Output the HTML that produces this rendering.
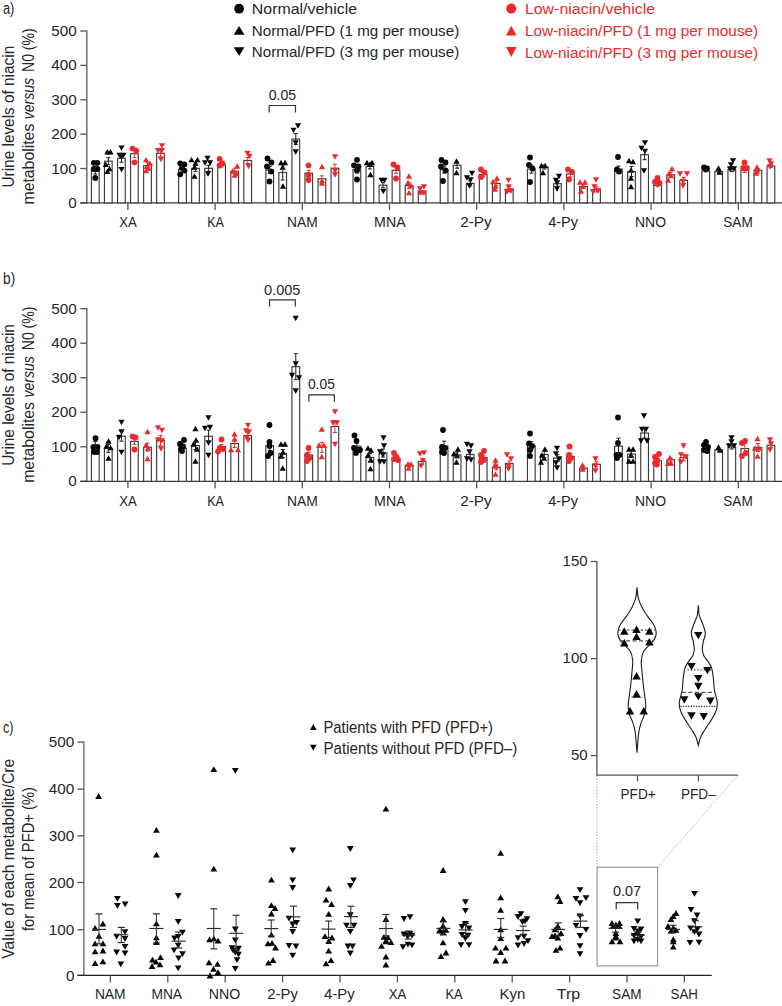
<!DOCTYPE html>
<html><head><meta charset="utf-8"><title>Figure</title>
<style>html,body{margin:0;padding:0;background:#fff;width:782px;height:1006px;overflow:hidden}</style>
</head><body>
<svg width="782" height="1006" viewBox="0 0 782 1006" style="display:block">
<g font-family='"Liberation Sans", sans-serif'>
<text x="2.90" y="13.8" font-size="16" fill="#262626" textLength="11.50" lengthAdjust="spacingAndGlyphs">a)</text>
<text x="3.10" y="283.8" font-size="16" fill="#262626" textLength="12.10" lengthAdjust="spacingAndGlyphs">b)</text>
<text x="2.90" y="733.0" font-size="16" fill="#262626" textLength="10.50" lengthAdjust="spacingAndGlyphs">c)</text>
<circle cx="239.10" cy="8.70" r="4.9" fill="#050505"/>
<polygon points="233.75,34.75 244.45,34.75 239.10,26.05" fill="#050505"/>
<polygon points="233.75,47.30 244.45,47.30 239.10,56.10" fill="#050505"/>
<text x="251.80" y="13.8" font-size="15.5" fill="#262626" textLength="105.31" lengthAdjust="spacingAndGlyphs">Normal/vehicle</text>
<text x="251.80" y="35.6" font-size="15.5" fill="#262626" textLength="207.40" lengthAdjust="spacingAndGlyphs">Normal/PFD (1 mg per mouse)</text>
<text x="251.80" y="57.2" font-size="15.5" fill="#262626" textLength="207.40" lengthAdjust="spacingAndGlyphs">Normal/PFD (3 mg per mouse)</text>
<circle cx="511.20" cy="8.60" r="5.0" fill="#ec2a2e"/>
<polygon points="505.95,35.40 516.65,35.40 511.30,25.80" fill="#ec2a2e"/>
<polygon points="505.95,47.10 516.65,47.10 511.30,56.90" fill="#ec2a2e"/>
<text x="524.90" y="14.3" font-size="15.5" fill="#ec2a2e" textLength="130.20" lengthAdjust="spacingAndGlyphs">Low-niacin/vehicle</text>
<text x="524.90" y="35.9" font-size="15.5" fill="#ec2a2e" textLength="233.29" lengthAdjust="spacingAndGlyphs">Low-niacin/PFD (1 mg per mouse)</text>
<text x="524.90" y="57.6" font-size="15.5" fill="#ec2a2e" textLength="233.29" lengthAdjust="spacingAndGlyphs">Low-niacin/PFD (3 mg per mouse)</text>
<text transform="translate(14.0,187.50) rotate(-90)" font-size="16" fill="#262626" textLength="141.69" lengthAdjust="spacingAndGlyphs">Urine levels of niacin</text>
<text transform="translate(33.7,204.50) rotate(-90)" font-size="16" fill="#262626" textLength="80.80" lengthAdjust="spacingAndGlyphs">metabolites</text>
<text transform="translate(33.7,119.20) rotate(-90)" font-size="16" fill="#262626" font-style="italic" textLength="41.30" lengthAdjust="spacingAndGlyphs">versus</text>
<text transform="translate(33.7,71.90) rotate(-90)" font-size="16" fill="#262626" textLength="43.50" lengthAdjust="spacingAndGlyphs">N0 (%)</text>
<text transform="translate(14.0,465.80) rotate(-90)" font-size="16" fill="#262626" textLength="141.69" lengthAdjust="spacingAndGlyphs">Urine levels of niacin</text>
<text transform="translate(33.7,482.80) rotate(-90)" font-size="16" fill="#262626" textLength="80.80" lengthAdjust="spacingAndGlyphs">metabolites</text>
<text transform="translate(33.7,397.50) rotate(-90)" font-size="16" fill="#262626" font-style="italic" textLength="41.30" lengthAdjust="spacingAndGlyphs">versus</text>
<text transform="translate(33.7,350.20) rotate(-90)" font-size="16" fill="#262626" textLength="43.50" lengthAdjust="spacingAndGlyphs">N0 (%)</text>
<line x1="86.80" y1="30.40" x2="86.80" y2="203.50" stroke="#555" stroke-width="1.3"/>
<line x1="80.30" y1="202.90" x2="86.80" y2="202.90" stroke="#555" stroke-width="1.3"/>
<text x="76.7" y="208.0" font-size="15.3" fill="#262626" text-anchor="end">0</text>
<line x1="80.30" y1="168.52" x2="86.80" y2="168.52" stroke="#555" stroke-width="1.3"/>
<text x="76.7" y="173.62" font-size="15.3" fill="#262626" text-anchor="end">100</text>
<line x1="80.30" y1="134.14" x2="86.80" y2="134.14" stroke="#555" stroke-width="1.3"/>
<text x="76.7" y="139.23999999999998" font-size="15.3" fill="#262626" text-anchor="end">200</text>
<line x1="80.30" y1="99.76" x2="86.80" y2="99.76" stroke="#555" stroke-width="1.3"/>
<text x="76.7" y="104.85999999999999" font-size="15.3" fill="#262626" text-anchor="end">300</text>
<line x1="80.30" y1="65.38" x2="86.80" y2="65.38" stroke="#555" stroke-width="1.3"/>
<text x="76.7" y="70.47999999999999" font-size="15.3" fill="#262626" text-anchor="end">400</text>
<line x1="80.30" y1="31.00" x2="86.80" y2="31.00" stroke="#555" stroke-width="1.3"/>
<text x="76.7" y="36.1" font-size="15.3" fill="#262626" text-anchor="end">500</text>
<line x1="80.30" y1="202.90" x2="782.00" y2="202.90" stroke="#3a3a3a" stroke-width="1.3"/>
<line x1="127.90" y1="202.90" x2="127.90" y2="209.90" stroke="#555" stroke-width="1.3"/>
<text x="119.20" y="226.9" font-size="14.8" fill="#262626" textLength="17.60" lengthAdjust="spacingAndGlyphs">XA</text>
<line x1="215.10" y1="202.90" x2="215.10" y2="209.90" stroke="#555" stroke-width="1.3"/>
<text x="207.20" y="226.9" font-size="14.8" fill="#262626" textLength="16.80" lengthAdjust="spacingAndGlyphs">KA</text>
<line x1="302.30" y1="202.90" x2="302.30" y2="209.90" stroke="#555" stroke-width="1.3"/>
<text x="287.00" y="226.9" font-size="14.8" fill="#262626" textLength="30.70" lengthAdjust="spacingAndGlyphs">NAM</text>
<line x1="389.50" y1="202.90" x2="389.50" y2="209.90" stroke="#555" stroke-width="1.3"/>
<text x="374.10" y="226.9" font-size="14.8" fill="#262626" textLength="31.50" lengthAdjust="spacingAndGlyphs">MNA</text>
<line x1="476.70" y1="202.90" x2="476.70" y2="209.90" stroke="#555" stroke-width="1.3"/>
<text x="460.20" y="226.9" font-size="14.8" fill="#262626" textLength="31.50" lengthAdjust="spacingAndGlyphs">2-Py</text>
<line x1="563.90" y1="202.90" x2="563.90" y2="209.90" stroke="#555" stroke-width="1.3"/>
<text x="548.20" y="226.9" font-size="14.8" fill="#262626" textLength="29.90" lengthAdjust="spacingAndGlyphs">4-Py</text>
<line x1="651.10" y1="202.90" x2="651.10" y2="209.90" stroke="#555" stroke-width="1.3"/>
<text x="635.00" y="226.9" font-size="14.8" fill="#262626" textLength="31.00" lengthAdjust="spacingAndGlyphs">NNO</text>
<line x1="738.30" y1="202.90" x2="738.30" y2="209.90" stroke="#555" stroke-width="1.3"/>
<text x="723.30" y="226.9" font-size="14.8" fill="#262626" textLength="29.50" lengthAdjust="spacingAndGlyphs">SAM</text>
<rect x="91.45" y="170.10" width="7.7" height="32.80" fill="#fff" stroke="#3a3a3a" stroke-width="1.15"/>
<rect x="104.45" y="161.20" width="7.7" height="41.70" fill="#fff" stroke="#3a3a3a" stroke-width="1.15"/>
<rect x="117.55" y="158.30" width="7.7" height="44.60" fill="#fff" stroke="#3a3a3a" stroke-width="1.15"/>
<rect x="130.55" y="153.70" width="7.7" height="49.20" fill="#fff" stroke="#3a3a3a" stroke-width="1.15"/>
<rect x="143.65" y="165.70" width="7.7" height="37.20" fill="#fff" stroke="#3a3a3a" stroke-width="1.15"/>
<rect x="156.65" y="153.30" width="7.7" height="49.60" fill="#fff" stroke="#3a3a3a" stroke-width="1.15"/>
<rect x="178.65" y="169.10" width="7.7" height="33.80" fill="#fff" stroke="#3a3a3a" stroke-width="1.15"/>
<rect x="191.65" y="168.30" width="7.7" height="34.60" fill="#fff" stroke="#3a3a3a" stroke-width="1.15"/>
<rect x="204.75" y="168.30" width="7.7" height="34.60" fill="#fff" stroke="#3a3a3a" stroke-width="1.15"/>
<rect x="217.75" y="164.90" width="7.7" height="38.00" fill="#fff" stroke="#3a3a3a" stroke-width="1.15"/>
<rect x="230.85" y="171.20" width="7.7" height="31.70" fill="#fff" stroke="#3a3a3a" stroke-width="1.15"/>
<rect x="243.85" y="160.50" width="7.7" height="42.40" fill="#fff" stroke="#3a3a3a" stroke-width="1.15"/>
<rect x="265.85" y="170.00" width="7.7" height="32.90" fill="#fff" stroke="#3a3a3a" stroke-width="1.15"/>
<rect x="278.85" y="172.50" width="7.7" height="30.40" fill="#fff" stroke="#3a3a3a" stroke-width="1.15"/>
<rect x="291.95" y="139.00" width="7.7" height="63.90" fill="#fff" stroke="#3a3a3a" stroke-width="1.15"/>
<rect x="304.95" y="173.20" width="7.7" height="29.70" fill="#fff" stroke="#3a3a3a" stroke-width="1.15"/>
<rect x="318.05" y="178.80" width="7.7" height="24.10" fill="#fff" stroke="#3a3a3a" stroke-width="1.15"/>
<rect x="331.05" y="168.20" width="7.7" height="34.70" fill="#fff" stroke="#3a3a3a" stroke-width="1.15"/>
<rect x="353.05" y="169.40" width="7.7" height="33.50" fill="#fff" stroke="#3a3a3a" stroke-width="1.15"/>
<rect x="366.05" y="166.40" width="7.7" height="36.50" fill="#fff" stroke="#3a3a3a" stroke-width="1.15"/>
<rect x="379.15" y="185.20" width="7.7" height="17.70" fill="#fff" stroke="#3a3a3a" stroke-width="1.15"/>
<rect x="392.15" y="170.30" width="7.7" height="32.60" fill="#fff" stroke="#3a3a3a" stroke-width="1.15"/>
<rect x="405.25" y="185.60" width="7.7" height="17.30" fill="#fff" stroke="#3a3a3a" stroke-width="1.15"/>
<rect x="418.25" y="192.70" width="7.7" height="10.20" fill="#fff" stroke="#3a3a3a" stroke-width="1.15"/>
<rect x="440.25" y="169.60" width="7.7" height="33.30" fill="#fff" stroke="#3a3a3a" stroke-width="1.15"/>
<rect x="453.25" y="165.20" width="7.7" height="37.70" fill="#fff" stroke="#3a3a3a" stroke-width="1.15"/>
<rect x="466.35" y="183.40" width="7.7" height="19.50" fill="#fff" stroke="#3a3a3a" stroke-width="1.15"/>
<rect x="479.35" y="174.60" width="7.7" height="28.30" fill="#fff" stroke="#3a3a3a" stroke-width="1.15"/>
<rect x="492.45" y="183.40" width="7.7" height="19.50" fill="#fff" stroke="#3a3a3a" stroke-width="1.15"/>
<rect x="505.45" y="189.20" width="7.7" height="13.70" fill="#fff" stroke="#3a3a3a" stroke-width="1.15"/>
<rect x="527.45" y="169.10" width="7.7" height="33.80" fill="#fff" stroke="#3a3a3a" stroke-width="1.15"/>
<rect x="540.45" y="167.00" width="7.7" height="35.90" fill="#fff" stroke="#3a3a3a" stroke-width="1.15"/>
<rect x="553.55" y="183.70" width="7.7" height="19.20" fill="#fff" stroke="#3a3a3a" stroke-width="1.15"/>
<rect x="566.55" y="174.00" width="7.7" height="28.90" fill="#fff" stroke="#3a3a3a" stroke-width="1.15"/>
<rect x="579.65" y="186.40" width="7.7" height="16.50" fill="#fff" stroke="#3a3a3a" stroke-width="1.15"/>
<rect x="592.65" y="189.50" width="7.7" height="13.40" fill="#fff" stroke="#3a3a3a" stroke-width="1.15"/>
<rect x="614.65" y="169.10" width="7.7" height="33.80" fill="#fff" stroke="#3a3a3a" stroke-width="1.15"/>
<rect x="627.65" y="171.50" width="7.7" height="31.40" fill="#fff" stroke="#3a3a3a" stroke-width="1.15"/>
<rect x="640.75" y="154.70" width="7.7" height="48.20" fill="#fff" stroke="#3a3a3a" stroke-width="1.15"/>
<rect x="653.75" y="185.30" width="7.7" height="17.60" fill="#fff" stroke="#3a3a3a" stroke-width="1.15"/>
<rect x="666.85" y="174.80" width="7.7" height="28.10" fill="#fff" stroke="#3a3a3a" stroke-width="1.15"/>
<rect x="679.85" y="180.30" width="7.7" height="22.60" fill="#fff" stroke="#3a3a3a" stroke-width="1.15"/>
<rect x="701.85" y="170.90" width="7.7" height="32.00" fill="#fff" stroke="#3a3a3a" stroke-width="1.15"/>
<rect x="714.85" y="171.40" width="7.7" height="31.50" fill="#fff" stroke="#3a3a3a" stroke-width="1.15"/>
<rect x="727.95" y="169.60" width="7.7" height="33.30" fill="#fff" stroke="#3a3a3a" stroke-width="1.15"/>
<rect x="740.95" y="170.60" width="7.7" height="32.30" fill="#fff" stroke="#3a3a3a" stroke-width="1.15"/>
<rect x="754.05" y="170.30" width="7.7" height="32.60" fill="#fff" stroke="#3a3a3a" stroke-width="1.15"/>
<rect x="767.05" y="166.00" width="7.7" height="36.90" fill="#fff" stroke="#3a3a3a" stroke-width="1.15"/>
<circle cx="93.80" cy="162.80" r="2.9" fill="#050505"/>
<circle cx="97.40" cy="162.80" r="2.9" fill="#050505"/>
<circle cx="93.80" cy="169.00" r="2.9" fill="#050505"/>
<circle cx="97.40" cy="169.00" r="2.9" fill="#050505"/>
<circle cx="95.30" cy="178.00" r="2.9" fill="#050505"/>
<line x1="95.30" y1="166.10" x2="95.30" y2="174.10" stroke="#1e1e1e" stroke-width="1.0"/>
<line x1="93.30" y1="166.10" x2="97.30" y2="166.10" stroke="#1e1e1e" stroke-width="1.0"/>
<line x1="93.30" y1="174.10" x2="97.30" y2="174.10" stroke="#1e1e1e" stroke-width="1.0"/>
<polygon points="104.30,154.50 110.50,154.50 107.40,149.10" fill="#050505"/>
<polygon points="107.40,154.50 113.60,154.50 110.50,149.10" fill="#050505"/>
<polygon points="102.70,167.10 108.90,167.10 105.80,161.70" fill="#050505"/>
<polygon points="106.40,171.20 112.60,171.20 109.50,165.80" fill="#050505"/>
<polygon points="104.30,173.90 110.50,173.90 107.40,168.50" fill="#050505"/>
<line x1="108.30" y1="157.70" x2="108.30" y2="164.70" stroke="#1e1e1e" stroke-width="1.0"/>
<line x1="106.30" y1="157.70" x2="110.30" y2="157.70" stroke="#1e1e1e" stroke-width="1.0"/>
<line x1="106.30" y1="164.70" x2="110.30" y2="164.70" stroke="#1e1e1e" stroke-width="1.0"/>
<polygon points="118.40,145.40 124.60,145.40 121.50,150.80" fill="#050505"/>
<polygon points="116.40,152.70 122.60,152.70 119.50,158.10" fill="#050505"/>
<polygon points="120.40,152.70 126.60,152.70 123.50,158.10" fill="#050505"/>
<polygon points="118.40,154.30 124.60,154.30 121.50,159.70" fill="#050505"/>
<polygon points="118.40,166.90 124.60,166.90 121.50,172.30" fill="#050505"/>
<line x1="121.40" y1="154.30" x2="121.40" y2="162.30" stroke="#1e1e1e" stroke-width="1.0"/>
<line x1="119.40" y1="154.30" x2="123.40" y2="154.30" stroke="#1e1e1e" stroke-width="1.0"/>
<line x1="119.40" y1="162.30" x2="123.40" y2="162.30" stroke="#1e1e1e" stroke-width="1.0"/>
<circle cx="132.50" cy="148.60" r="2.9" fill="#ec2a2e"/>
<circle cx="136.20" cy="150.70" r="2.9" fill="#ec2a2e"/>
<circle cx="134.50" cy="162.30" r="2.9" fill="#ec2a2e"/>
<line x1="134.40" y1="149.70" x2="134.40" y2="157.70" stroke="#ec2a2e" stroke-width="1.0"/>
<line x1="132.40" y1="149.70" x2="136.40" y2="149.70" stroke="#ec2a2e" stroke-width="1.0"/>
<line x1="132.40" y1="157.70" x2="136.40" y2="157.70" stroke="#ec2a2e" stroke-width="1.0"/>
<polygon points="142.90,162.30 149.10,162.30 146.00,156.90" fill="#ec2a2e"/>
<polygon points="146.90,166.00 153.10,166.00 150.00,160.60" fill="#ec2a2e"/>
<polygon points="143.90,169.10 150.10,169.10 147.00,163.70" fill="#ec2a2e"/>
<polygon points="142.90,173.30 149.10,173.30 146.00,167.90" fill="#ec2a2e"/>
<polygon points="145.40,170.70 151.60,170.70 148.50,165.30" fill="#ec2a2e"/>
<line x1="147.50" y1="162.70" x2="147.50" y2="168.70" stroke="#ec2a2e" stroke-width="1.0"/>
<line x1="145.50" y1="162.70" x2="149.50" y2="162.70" stroke="#ec2a2e" stroke-width="1.0"/>
<line x1="145.50" y1="168.70" x2="149.50" y2="168.70" stroke="#ec2a2e" stroke-width="1.0"/>
<polygon points="158.90,143.30 165.10,143.30 162.00,148.70" fill="#ec2a2e"/>
<polygon points="154.90,148.00 161.10,148.00 158.00,153.40" fill="#ec2a2e"/>
<polygon points="158.90,148.00 165.10,148.00 162.00,153.40" fill="#ec2a2e"/>
<polygon points="157.90,156.90 164.10,156.90 161.00,162.30" fill="#ec2a2e"/>
<line x1="160.50" y1="150.30" x2="160.50" y2="156.30" stroke="#ec2a2e" stroke-width="1.0"/>
<line x1="158.50" y1="150.30" x2="162.50" y2="150.30" stroke="#ec2a2e" stroke-width="1.0"/>
<line x1="158.50" y1="156.30" x2="162.50" y2="156.30" stroke="#ec2a2e" stroke-width="1.0"/>
<circle cx="180.20" cy="163.30" r="2.9" fill="#050505"/>
<circle cx="184.40" cy="164.40" r="2.9" fill="#050505"/>
<circle cx="184.40" cy="170.60" r="2.9" fill="#050505"/>
<circle cx="180.20" cy="174.30" r="2.9" fill="#050505"/>
<circle cx="182.00" cy="168.00" r="2.9" fill="#050505"/>
<line x1="182.50" y1="166.10" x2="182.50" y2="172.10" stroke="#1e1e1e" stroke-width="1.0"/>
<line x1="180.50" y1="166.10" x2="184.50" y2="166.10" stroke="#1e1e1e" stroke-width="1.0"/>
<line x1="180.50" y1="172.10" x2="184.50" y2="172.10" stroke="#1e1e1e" stroke-width="1.0"/>
<polygon points="188.40,162.30 194.60,162.30 191.50,156.90" fill="#050505"/>
<polygon points="194.40,162.30 200.60,162.30 197.50,156.90" fill="#050505"/>
<polygon points="191.40,169.70 197.60,169.70 194.50,164.30" fill="#050505"/>
<polygon points="191.40,178.70 197.60,178.70 194.50,173.30" fill="#050505"/>
<polygon points="192.40,165.70 198.60,165.70 195.50,160.30" fill="#050505"/>
<line x1="195.50" y1="165.30" x2="195.50" y2="171.30" stroke="#1e1e1e" stroke-width="1.0"/>
<line x1="193.50" y1="165.30" x2="197.50" y2="165.30" stroke="#1e1e1e" stroke-width="1.0"/>
<line x1="193.50" y1="171.30" x2="197.50" y2="171.30" stroke="#1e1e1e" stroke-width="1.0"/>
<polygon points="204.40,155.80 210.60,155.80 207.50,161.20" fill="#050505"/>
<polygon points="201.90,160.30 208.10,160.30 205.00,165.70" fill="#050505"/>
<polygon points="206.90,160.30 213.10,160.30 210.00,165.70" fill="#050505"/>
<polygon points="204.90,171.30 211.10,171.30 208.00,176.70" fill="#050505"/>
<line x1="208.60" y1="165.30" x2="208.60" y2="171.30" stroke="#1e1e1e" stroke-width="1.0"/>
<line x1="206.60" y1="165.30" x2="210.60" y2="165.30" stroke="#1e1e1e" stroke-width="1.0"/>
<line x1="206.60" y1="171.30" x2="210.60" y2="171.30" stroke="#1e1e1e" stroke-width="1.0"/>
<circle cx="219.60" cy="158.90" r="2.9" fill="#ec2a2e"/>
<circle cx="222.50" cy="163.30" r="2.9" fill="#ec2a2e"/>
<circle cx="219.50" cy="165.50" r="2.9" fill="#ec2a2e"/>
<line x1="221.60" y1="162.90" x2="221.60" y2="166.90" stroke="#ec2a2e" stroke-width="1.0"/>
<line x1="219.60" y1="162.90" x2="223.60" y2="162.90" stroke="#ec2a2e" stroke-width="1.0"/>
<line x1="219.60" y1="166.90" x2="223.60" y2="166.90" stroke="#ec2a2e" stroke-width="1.0"/>
<polygon points="234.10,168.70 240.30,168.70 237.20,163.30" fill="#ec2a2e"/>
<polygon points="229.50,173.70 235.70,173.70 232.60,168.30" fill="#ec2a2e"/>
<polygon points="233.40,176.10 239.60,176.10 236.50,170.70" fill="#ec2a2e"/>
<polygon points="231.50,177.70 237.70,177.70 234.60,172.30" fill="#ec2a2e"/>
<line x1="234.70" y1="168.20" x2="234.70" y2="174.20" stroke="#ec2a2e" stroke-width="1.0"/>
<line x1="232.70" y1="168.20" x2="236.70" y2="168.20" stroke="#ec2a2e" stroke-width="1.0"/>
<line x1="232.70" y1="174.20" x2="236.70" y2="174.20" stroke="#ec2a2e" stroke-width="1.0"/>
<polygon points="244.40,150.80 250.60,150.80 247.50,156.20" fill="#ec2a2e"/>
<polygon points="246.40,153.80 252.60,153.80 249.50,159.20" fill="#ec2a2e"/>
<polygon points="245.40,163.80 251.60,163.80 248.50,169.20" fill="#ec2a2e"/>
<line x1="247.70" y1="157.50" x2="247.70" y2="163.50" stroke="#ec2a2e" stroke-width="1.0"/>
<line x1="245.70" y1="157.50" x2="249.70" y2="157.50" stroke="#ec2a2e" stroke-width="1.0"/>
<line x1="245.70" y1="163.50" x2="249.70" y2="163.50" stroke="#ec2a2e" stroke-width="1.0"/>
<circle cx="267.50" cy="158.50" r="2.9" fill="#050505"/>
<circle cx="271.50" cy="162.50" r="2.9" fill="#050505"/>
<circle cx="267.00" cy="166.50" r="2.9" fill="#050505"/>
<circle cx="271.00" cy="171.50" r="2.9" fill="#050505"/>
<circle cx="269.50" cy="181.50" r="2.9" fill="#050505"/>
<line x1="269.70" y1="166.50" x2="269.70" y2="173.50" stroke="#1e1e1e" stroke-width="1.0"/>
<line x1="267.70" y1="166.50" x2="271.70" y2="166.50" stroke="#1e1e1e" stroke-width="1.0"/>
<line x1="267.70" y1="173.50" x2="271.70" y2="173.50" stroke="#1e1e1e" stroke-width="1.0"/>
<polygon points="277.90,165.20 284.10,165.20 281.00,159.80" fill="#050505"/>
<polygon points="281.90,165.20 288.10,165.20 285.00,159.80" fill="#050505"/>
<polygon points="279.60,169.70 285.80,169.70 282.70,164.30" fill="#050505"/>
<polygon points="279.90,188.70 286.10,188.70 283.00,183.30" fill="#050505"/>
<line x1="282.70" y1="165.00" x2="282.70" y2="180.00" stroke="#1e1e1e" stroke-width="1.0"/>
<line x1="280.70" y1="165.00" x2="284.70" y2="165.00" stroke="#1e1e1e" stroke-width="1.0"/>
<line x1="280.70" y1="180.00" x2="284.70" y2="180.00" stroke="#1e1e1e" stroke-width="1.0"/>
<polygon points="294.90,123.30 301.10,123.30 298.00,128.70" fill="#050505"/>
<polygon points="290.40,127.80 296.60,127.80 293.50,133.20" fill="#050505"/>
<polygon points="292.60,140.30 298.80,140.30 295.70,145.70" fill="#050505"/>
<polygon points="292.60,149.30 298.80,149.30 295.70,154.70" fill="#050505"/>
<line x1="295.80" y1="133.40" x2="295.80" y2="144.60" stroke="#1e1e1e" stroke-width="1.0"/>
<line x1="293.80" y1="133.40" x2="297.80" y2="133.40" stroke="#1e1e1e" stroke-width="1.0"/>
<line x1="293.80" y1="144.60" x2="297.80" y2="144.60" stroke="#1e1e1e" stroke-width="1.0"/>
<circle cx="308.50" cy="165.30" r="2.9" fill="#ec2a2e"/>
<circle cx="308.50" cy="175.00" r="2.9" fill="#ec2a2e"/>
<circle cx="308.50" cy="180.00" r="2.9" fill="#ec2a2e"/>
<line x1="308.80" y1="170.20" x2="308.80" y2="176.20" stroke="#ec2a2e" stroke-width="1.0"/>
<line x1="306.80" y1="170.20" x2="310.80" y2="170.20" stroke="#ec2a2e" stroke-width="1.0"/>
<line x1="306.80" y1="176.20" x2="310.80" y2="176.20" stroke="#ec2a2e" stroke-width="1.0"/>
<polygon points="318.90,169.20 325.10,169.20 322.00,163.80" fill="#ec2a2e"/>
<polygon points="318.90,183.20 325.10,183.20 322.00,177.80" fill="#ec2a2e"/>
<polygon points="318.90,185.70 325.10,185.70 322.00,180.30" fill="#ec2a2e"/>
<line x1="321.90" y1="175.80" x2="321.90" y2="181.80" stroke="#ec2a2e" stroke-width="1.0"/>
<line x1="319.90" y1="175.80" x2="323.90" y2="175.80" stroke="#ec2a2e" stroke-width="1.0"/>
<line x1="319.90" y1="181.80" x2="323.90" y2="181.80" stroke="#ec2a2e" stroke-width="1.0"/>
<polygon points="331.90,154.30 338.10,154.30 335.00,159.70" fill="#ec2a2e"/>
<polygon points="331.90,168.30 338.10,168.30 335.00,173.70" fill="#ec2a2e"/>
<polygon points="331.90,172.30 338.10,172.30 335.00,177.70" fill="#ec2a2e"/>
<line x1="334.90" y1="164.20" x2="334.90" y2="172.20" stroke="#ec2a2e" stroke-width="1.0"/>
<line x1="332.90" y1="164.20" x2="336.90" y2="164.20" stroke="#ec2a2e" stroke-width="1.0"/>
<line x1="332.90" y1="172.20" x2="336.90" y2="172.20" stroke="#ec2a2e" stroke-width="1.0"/>
<circle cx="357.00" cy="159.80" r="2.9" fill="#050505"/>
<circle cx="354.00" cy="165.30" r="2.9" fill="#050505"/>
<circle cx="358.50" cy="166.50" r="2.9" fill="#050505"/>
<circle cx="357.00" cy="170.50" r="2.9" fill="#050505"/>
<circle cx="357.00" cy="179.50" r="2.9" fill="#050505"/>
<line x1="356.90" y1="165.90" x2="356.90" y2="172.90" stroke="#1e1e1e" stroke-width="1.0"/>
<line x1="354.90" y1="165.90" x2="358.90" y2="165.90" stroke="#1e1e1e" stroke-width="1.0"/>
<line x1="354.90" y1="172.90" x2="358.90" y2="172.90" stroke="#1e1e1e" stroke-width="1.0"/>
<polygon points="363.90,165.20 370.10,165.20 367.00,159.80" fill="#050505"/>
<polygon points="368.90,165.20 375.10,165.20 372.00,159.80" fill="#050505"/>
<polygon points="366.90,166.70 373.10,166.70 370.00,161.30" fill="#050505"/>
<polygon points="367.30,177.20 373.50,177.20 370.40,171.80" fill="#050505"/>
<line x1="369.90" y1="163.90" x2="369.90" y2="168.90" stroke="#1e1e1e" stroke-width="1.0"/>
<line x1="367.90" y1="163.90" x2="371.90" y2="163.90" stroke="#1e1e1e" stroke-width="1.0"/>
<line x1="367.90" y1="168.90" x2="371.90" y2="168.90" stroke="#1e1e1e" stroke-width="1.0"/>
<polygon points="378.40,177.80 384.60,177.80 381.50,183.20" fill="#050505"/>
<polygon points="381.40,177.80 387.60,177.80 384.50,183.20" fill="#050505"/>
<polygon points="380.20,188.80 386.40,188.80 383.30,194.20" fill="#050505"/>
<line x1="383.00" y1="182.70" x2="383.00" y2="187.70" stroke="#1e1e1e" stroke-width="1.0"/>
<line x1="381.00" y1="182.70" x2="385.00" y2="182.70" stroke="#1e1e1e" stroke-width="1.0"/>
<line x1="381.00" y1="187.70" x2="385.00" y2="187.70" stroke="#1e1e1e" stroke-width="1.0"/>
<circle cx="393.50" cy="164.50" r="2.9" fill="#ec2a2e"/>
<circle cx="397.50" cy="167.50" r="2.9" fill="#ec2a2e"/>
<circle cx="396.00" cy="178.50" r="2.9" fill="#ec2a2e"/>
<line x1="396.00" y1="167.30" x2="396.00" y2="173.30" stroke="#ec2a2e" stroke-width="1.0"/>
<line x1="394.00" y1="167.30" x2="398.00" y2="167.30" stroke="#ec2a2e" stroke-width="1.0"/>
<line x1="394.00" y1="173.30" x2="398.00" y2="173.30" stroke="#ec2a2e" stroke-width="1.0"/>
<polygon points="405.90,178.70 412.10,178.70 409.00,173.30" fill="#ec2a2e"/>
<polygon points="404.90,185.20 411.10,185.20 408.00,179.80" fill="#ec2a2e"/>
<polygon points="407.90,188.20 414.10,188.20 411.00,182.80" fill="#ec2a2e"/>
<polygon points="405.90,195.20 412.10,195.20 409.00,189.80" fill="#ec2a2e"/>
<line x1="409.10" y1="182.60" x2="409.10" y2="188.60" stroke="#ec2a2e" stroke-width="1.0"/>
<line x1="407.10" y1="182.60" x2="411.10" y2="182.60" stroke="#ec2a2e" stroke-width="1.0"/>
<line x1="407.10" y1="188.60" x2="411.10" y2="188.60" stroke="#ec2a2e" stroke-width="1.0"/>
<polygon points="416.90,186.30 423.10,186.30 420.00,191.70" fill="#ec2a2e"/>
<polygon points="420.90,184.30 427.10,184.30 424.00,189.70" fill="#ec2a2e"/>
<polygon points="416.90,190.30 423.10,190.30 420.00,195.70" fill="#ec2a2e"/>
<polygon points="420.90,190.30 427.10,190.30 424.00,195.70" fill="#ec2a2e"/>
<line x1="422.10" y1="191.20" x2="422.10" y2="194.20" stroke="#ec2a2e" stroke-width="1.0"/>
<line x1="420.10" y1="191.20" x2="424.10" y2="191.20" stroke="#ec2a2e" stroke-width="1.0"/>
<line x1="420.10" y1="194.20" x2="424.10" y2="194.20" stroke="#ec2a2e" stroke-width="1.0"/>
<circle cx="441.50" cy="160.00" r="2.9" fill="#050505"/>
<circle cx="445.50" cy="162.50" r="2.9" fill="#050505"/>
<circle cx="441.00" cy="166.50" r="2.9" fill="#050505"/>
<circle cx="445.50" cy="170.50" r="2.9" fill="#050505"/>
<circle cx="443.00" cy="181.00" r="2.9" fill="#050505"/>
<line x1="444.10" y1="166.10" x2="444.10" y2="173.10" stroke="#1e1e1e" stroke-width="1.0"/>
<line x1="442.10" y1="166.10" x2="446.10" y2="166.10" stroke="#1e1e1e" stroke-width="1.0"/>
<line x1="442.10" y1="173.10" x2="446.10" y2="173.10" stroke="#1e1e1e" stroke-width="1.0"/>
<polygon points="453.40,163.70 459.60,163.70 456.50,158.30" fill="#050505"/>
<polygon points="453.40,175.20 459.60,175.20 456.50,169.80" fill="#050505"/>
<line x1="457.10" y1="162.20" x2="457.10" y2="168.20" stroke="#1e1e1e" stroke-width="1.0"/>
<line x1="455.10" y1="162.20" x2="459.10" y2="162.20" stroke="#1e1e1e" stroke-width="1.0"/>
<line x1="455.10" y1="168.20" x2="459.10" y2="168.20" stroke="#1e1e1e" stroke-width="1.0"/>
<polygon points="468.90,170.80 475.10,170.80 472.00,176.20" fill="#050505"/>
<polygon points="463.90,175.30 470.10,175.30 467.00,180.70" fill="#050505"/>
<polygon points="467.40,177.30 473.60,177.30 470.50,182.70" fill="#050505"/>
<polygon points="466.40,183.30 472.60,183.30 469.50,188.70" fill="#050505"/>
<line x1="470.20" y1="180.90" x2="470.20" y2="185.90" stroke="#1e1e1e" stroke-width="1.0"/>
<line x1="468.20" y1="180.90" x2="472.20" y2="180.90" stroke="#1e1e1e" stroke-width="1.0"/>
<line x1="468.20" y1="185.90" x2="472.20" y2="185.90" stroke="#1e1e1e" stroke-width="1.0"/>
<circle cx="481.00" cy="169.50" r="2.9" fill="#ec2a2e"/>
<circle cx="484.50" cy="172.50" r="2.9" fill="#ec2a2e"/>
<circle cx="481.00" cy="177.00" r="2.9" fill="#ec2a2e"/>
<line x1="483.20" y1="172.60" x2="483.20" y2="176.60" stroke="#ec2a2e" stroke-width="1.0"/>
<line x1="481.20" y1="172.60" x2="485.20" y2="172.60" stroke="#ec2a2e" stroke-width="1.0"/>
<line x1="481.20" y1="176.60" x2="485.20" y2="176.60" stroke="#ec2a2e" stroke-width="1.0"/>
<polygon points="493.90,180.70 500.10,180.70 497.00,175.30" fill="#ec2a2e"/>
<polygon points="489.90,184.20 496.10,184.20 493.00,178.80" fill="#ec2a2e"/>
<polygon points="492.40,188.70 498.60,188.70 495.50,183.30" fill="#ec2a2e"/>
<polygon points="491.90,191.70 498.10,191.70 495.00,186.30" fill="#ec2a2e"/>
<line x1="496.30" y1="180.90" x2="496.30" y2="185.90" stroke="#ec2a2e" stroke-width="1.0"/>
<line x1="494.30" y1="180.90" x2="498.30" y2="180.90" stroke="#ec2a2e" stroke-width="1.0"/>
<line x1="494.30" y1="185.90" x2="498.30" y2="185.90" stroke="#ec2a2e" stroke-width="1.0"/>
<polygon points="505.40,177.80 511.60,177.80 508.50,183.20" fill="#ec2a2e"/>
<polygon points="505.40,184.30 511.60,184.30 508.50,189.70" fill="#ec2a2e"/>
<polygon points="503.90,189.30 510.10,189.30 507.00,194.70" fill="#ec2a2e"/>
<polygon points="507.90,188.30 514.10,188.30 511.00,193.70" fill="#ec2a2e"/>
<line x1="509.30" y1="186.70" x2="509.30" y2="191.70" stroke="#ec2a2e" stroke-width="1.0"/>
<line x1="507.30" y1="186.70" x2="511.30" y2="186.70" stroke="#ec2a2e" stroke-width="1.0"/>
<line x1="507.30" y1="191.70" x2="511.30" y2="191.70" stroke="#ec2a2e" stroke-width="1.0"/>
<circle cx="530.00" cy="157.50" r="2.9" fill="#050505"/>
<circle cx="529.00" cy="165.00" r="2.9" fill="#050505"/>
<circle cx="532.50" cy="168.50" r="2.9" fill="#050505"/>
<circle cx="530.00" cy="182.00" r="2.9" fill="#050505"/>
<line x1="531.30" y1="165.10" x2="531.30" y2="173.10" stroke="#1e1e1e" stroke-width="1.0"/>
<line x1="529.30" y1="165.10" x2="533.30" y2="165.10" stroke="#1e1e1e" stroke-width="1.0"/>
<line x1="529.30" y1="173.10" x2="533.30" y2="173.10" stroke="#1e1e1e" stroke-width="1.0"/>
<polygon points="538.40,168.20 544.60,168.20 541.50,162.80" fill="#050505"/>
<polygon points="541.90,168.20 548.10,168.20 545.00,162.80" fill="#050505"/>
<polygon points="539.90,175.20 546.10,175.20 543.00,169.80" fill="#050505"/>
<line x1="544.30" y1="165.00" x2="544.30" y2="169.00" stroke="#1e1e1e" stroke-width="1.0"/>
<line x1="542.30" y1="165.00" x2="546.30" y2="165.00" stroke="#1e1e1e" stroke-width="1.0"/>
<line x1="542.30" y1="169.00" x2="546.30" y2="169.00" stroke="#1e1e1e" stroke-width="1.0"/>
<polygon points="555.90,173.80 562.10,173.80 559.00,179.20" fill="#050505"/>
<polygon points="552.90,177.80 559.10,177.80 556.00,183.20" fill="#050505"/>
<polygon points="553.90,180.30 560.10,180.30 557.00,185.70" fill="#050505"/>
<polygon points="553.90,186.30 560.10,186.30 557.00,191.70" fill="#050505"/>
<line x1="557.40" y1="181.20" x2="557.40" y2="186.20" stroke="#1e1e1e" stroke-width="1.0"/>
<line x1="555.40" y1="181.20" x2="559.40" y2="181.20" stroke="#1e1e1e" stroke-width="1.0"/>
<line x1="555.40" y1="186.20" x2="559.40" y2="186.20" stroke="#1e1e1e" stroke-width="1.0"/>
<circle cx="568.00" cy="169.50" r="2.9" fill="#ec2a2e"/>
<circle cx="572.00" cy="172.00" r="2.9" fill="#ec2a2e"/>
<circle cx="569.00" cy="179.50" r="2.9" fill="#ec2a2e"/>
<line x1="570.40" y1="171.00" x2="570.40" y2="177.00" stroke="#ec2a2e" stroke-width="1.0"/>
<line x1="568.40" y1="171.00" x2="572.40" y2="171.00" stroke="#ec2a2e" stroke-width="1.0"/>
<line x1="568.40" y1="177.00" x2="572.40" y2="177.00" stroke="#ec2a2e" stroke-width="1.0"/>
<polygon points="576.90,184.70 583.10,184.70 580.00,179.30" fill="#ec2a2e"/>
<polygon points="581.90,184.70 588.10,184.70 585.00,179.30" fill="#ec2a2e"/>
<polygon points="579.90,188.70 586.10,188.70 583.00,183.30" fill="#ec2a2e"/>
<polygon points="577.90,193.70 584.10,193.70 581.00,188.30" fill="#ec2a2e"/>
<line x1="583.50" y1="184.40" x2="583.50" y2="188.40" stroke="#ec2a2e" stroke-width="1.0"/>
<line x1="581.50" y1="184.40" x2="585.50" y2="184.40" stroke="#ec2a2e" stroke-width="1.0"/>
<line x1="581.50" y1="188.40" x2="585.50" y2="188.40" stroke="#ec2a2e" stroke-width="1.0"/>
<polygon points="592.90,177.30 599.10,177.30 596.00,182.70" fill="#ec2a2e"/>
<polygon points="591.40,184.30 597.60,184.30 594.50,189.70" fill="#ec2a2e"/>
<polygon points="589.90,189.30 596.10,189.30 593.00,194.70" fill="#ec2a2e"/>
<polygon points="594.90,188.30 601.10,188.30 598.00,193.70" fill="#ec2a2e"/>
<line x1="596.50" y1="187.00" x2="596.50" y2="192.00" stroke="#ec2a2e" stroke-width="1.0"/>
<line x1="594.50" y1="187.00" x2="598.50" y2="187.00" stroke="#ec2a2e" stroke-width="1.0"/>
<line x1="594.50" y1="192.00" x2="598.50" y2="192.00" stroke="#ec2a2e" stroke-width="1.0"/>
<circle cx="618.00" cy="157.00" r="2.9" fill="#050505"/>
<circle cx="617.00" cy="169.50" r="2.9" fill="#050505"/>
<circle cx="619.00" cy="171.50" r="2.9" fill="#050505"/>
<line x1="618.50" y1="166.10" x2="618.50" y2="172.10" stroke="#1e1e1e" stroke-width="1.0"/>
<line x1="616.50" y1="166.10" x2="620.50" y2="166.10" stroke="#1e1e1e" stroke-width="1.0"/>
<line x1="616.50" y1="172.10" x2="620.50" y2="172.10" stroke="#1e1e1e" stroke-width="1.0"/>
<polygon points="625.90,163.20 632.10,163.20 629.00,157.80" fill="#050505"/>
<polygon points="629.90,164.20 636.10,164.20 633.00,158.80" fill="#050505"/>
<polygon points="627.90,172.70 634.10,172.70 631.00,167.30" fill="#050505"/>
<polygon points="627.90,180.70 634.10,180.70 631.00,175.30" fill="#050505"/>
<polygon points="627.90,189.20 634.10,189.20 631.00,183.80" fill="#050505"/>
<line x1="631.50" y1="166.50" x2="631.50" y2="176.50" stroke="#1e1e1e" stroke-width="1.0"/>
<line x1="629.50" y1="166.50" x2="633.50" y2="166.50" stroke="#1e1e1e" stroke-width="1.0"/>
<line x1="629.50" y1="176.50" x2="633.50" y2="176.50" stroke="#1e1e1e" stroke-width="1.0"/>
<polygon points="641.90,140.30 648.10,140.30 645.00,145.70" fill="#050505"/>
<polygon points="638.40,145.80 644.60,145.80 641.50,151.20" fill="#050505"/>
<polygon points="641.90,148.80 648.10,148.80 645.00,154.20" fill="#050505"/>
<polygon points="640.90,168.30 647.10,168.30 644.00,173.70" fill="#050505"/>
<line x1="644.60" y1="149.70" x2="644.60" y2="159.70" stroke="#1e1e1e" stroke-width="1.0"/>
<line x1="642.60" y1="149.70" x2="646.60" y2="149.70" stroke="#1e1e1e" stroke-width="1.0"/>
<line x1="642.60" y1="159.70" x2="646.60" y2="159.70" stroke="#1e1e1e" stroke-width="1.0"/>
<circle cx="657.50" cy="178.00" r="2.9" fill="#ec2a2e"/>
<circle cx="655.00" cy="182.00" r="2.9" fill="#ec2a2e"/>
<circle cx="659.50" cy="183.00" r="2.9" fill="#ec2a2e"/>
<line x1="657.60" y1="183.80" x2="657.60" y2="186.80" stroke="#ec2a2e" stroke-width="1.0"/>
<line x1="655.60" y1="183.80" x2="659.60" y2="183.80" stroke="#ec2a2e" stroke-width="1.0"/>
<line x1="655.60" y1="186.80" x2="659.60" y2="186.80" stroke="#ec2a2e" stroke-width="1.0"/>
<polygon points="668.90,171.20 675.10,171.20 672.00,165.80" fill="#ec2a2e"/>
<polygon points="665.90,176.20 672.10,176.20 669.00,170.80" fill="#ec2a2e"/>
<polygon points="667.90,178.20 674.10,178.20 671.00,172.80" fill="#ec2a2e"/>
<polygon points="664.90,182.70 671.10,182.70 668.00,177.30" fill="#ec2a2e"/>
<line x1="670.70" y1="172.30" x2="670.70" y2="177.30" stroke="#ec2a2e" stroke-width="1.0"/>
<line x1="668.70" y1="172.30" x2="672.70" y2="172.30" stroke="#ec2a2e" stroke-width="1.0"/>
<line x1="668.70" y1="177.30" x2="672.70" y2="177.30" stroke="#ec2a2e" stroke-width="1.0"/>
<polygon points="676.90,171.30 683.10,171.30 680.00,176.70" fill="#ec2a2e"/>
<polygon points="683.90,171.30 690.10,171.30 687.00,176.70" fill="#ec2a2e"/>
<polygon points="679.90,178.80 686.10,178.80 683.00,184.20" fill="#ec2a2e"/>
<polygon points="679.90,183.30 686.10,183.30 683.00,188.70" fill="#ec2a2e"/>
<line x1="683.70" y1="177.30" x2="683.70" y2="183.30" stroke="#ec2a2e" stroke-width="1.0"/>
<line x1="681.70" y1="177.30" x2="685.70" y2="177.30" stroke="#ec2a2e" stroke-width="1.0"/>
<line x1="681.70" y1="183.30" x2="685.70" y2="183.30" stroke="#ec2a2e" stroke-width="1.0"/>
<circle cx="704.00" cy="167.50" r="2.9" fill="#050505"/>
<circle cx="707.00" cy="168.50" r="2.9" fill="#050505"/>
<circle cx="706.00" cy="169.00" r="2.9" fill="#050505"/>
<line x1="705.70" y1="169.90" x2="705.70" y2="171.90" stroke="#1e1e1e" stroke-width="1.0"/>
<line x1="703.70" y1="169.90" x2="707.70" y2="169.90" stroke="#1e1e1e" stroke-width="1.0"/>
<line x1="703.70" y1="171.90" x2="707.70" y2="171.90" stroke="#1e1e1e" stroke-width="1.0"/>
<polygon points="715.40,170.70 721.60,170.70 718.50,165.30" fill="#050505"/>
<polygon points="716.40,174.70 722.60,174.70 719.50,169.30" fill="#050505"/>
<line x1="718.70" y1="170.40" x2="718.70" y2="172.40" stroke="#1e1e1e" stroke-width="1.0"/>
<line x1="716.70" y1="170.40" x2="720.70" y2="170.40" stroke="#1e1e1e" stroke-width="1.0"/>
<line x1="716.70" y1="172.40" x2="720.70" y2="172.40" stroke="#1e1e1e" stroke-width="1.0"/>
<polygon points="729.90,158.30 736.10,158.30 733.00,163.70" fill="#050505"/>
<polygon points="727.90,162.30 734.10,162.30 731.00,167.70" fill="#050505"/>
<polygon points="726.90,166.30 733.10,166.30 730.00,171.70" fill="#050505"/>
<polygon points="730.90,166.30 737.10,166.30 734.00,171.70" fill="#050505"/>
<line x1="731.80" y1="167.60" x2="731.80" y2="171.60" stroke="#1e1e1e" stroke-width="1.0"/>
<line x1="729.80" y1="167.60" x2="733.80" y2="167.60" stroke="#1e1e1e" stroke-width="1.0"/>
<line x1="729.80" y1="171.60" x2="733.80" y2="171.60" stroke="#1e1e1e" stroke-width="1.0"/>
<circle cx="744.50" cy="162.50" r="2.9" fill="#ec2a2e"/>
<circle cx="743.00" cy="168.00" r="2.9" fill="#ec2a2e"/>
<circle cx="747.00" cy="168.00" r="2.9" fill="#ec2a2e"/>
<line x1="744.80" y1="168.60" x2="744.80" y2="172.60" stroke="#ec2a2e" stroke-width="1.0"/>
<line x1="742.80" y1="168.60" x2="746.80" y2="168.60" stroke="#ec2a2e" stroke-width="1.0"/>
<line x1="742.80" y1="172.60" x2="746.80" y2="172.60" stroke="#ec2a2e" stroke-width="1.0"/>
<polygon points="753.90,169.70 760.10,169.70 757.00,164.30" fill="#ec2a2e"/>
<polygon points="753.90,173.70 760.10,173.70 757.00,168.30" fill="#ec2a2e"/>
<polygon points="752.90,175.70 759.10,175.70 756.00,170.30" fill="#ec2a2e"/>
<line x1="757.90" y1="168.80" x2="757.90" y2="171.80" stroke="#ec2a2e" stroke-width="1.0"/>
<line x1="755.90" y1="168.80" x2="759.90" y2="168.80" stroke="#ec2a2e" stroke-width="1.0"/>
<line x1="755.90" y1="171.80" x2="759.90" y2="171.80" stroke="#ec2a2e" stroke-width="1.0"/>
<polygon points="766.40,158.30 772.60,158.30 769.50,163.70" fill="#ec2a2e"/>
<polygon points="767.90,161.30 774.10,161.30 771.00,166.70" fill="#ec2a2e"/>
<polygon points="766.90,164.30 773.10,164.30 770.00,169.70" fill="#ec2a2e"/>
<line x1="770.90" y1="164.50" x2="770.90" y2="167.50" stroke="#ec2a2e" stroke-width="1.0"/>
<line x1="768.90" y1="164.50" x2="772.90" y2="164.50" stroke="#ec2a2e" stroke-width="1.0"/>
<line x1="768.90" y1="167.50" x2="772.90" y2="167.50" stroke="#ec2a2e" stroke-width="1.0"/>
<line x1="86.80" y1="308.10" x2="86.80" y2="481.90" stroke="#555" stroke-width="1.3"/>
<line x1="80.30" y1="481.30" x2="86.80" y2="481.30" stroke="#555" stroke-width="1.3"/>
<text x="76.7" y="486.40000000000003" font-size="15.3" fill="#262626" text-anchor="end">0</text>
<line x1="80.30" y1="446.78" x2="86.80" y2="446.78" stroke="#555" stroke-width="1.3"/>
<text x="76.7" y="451.88000000000005" font-size="15.3" fill="#262626" text-anchor="end">100</text>
<line x1="80.30" y1="412.26" x2="86.80" y2="412.26" stroke="#555" stroke-width="1.3"/>
<text x="76.7" y="417.36" font-size="15.3" fill="#262626" text-anchor="end">200</text>
<line x1="80.30" y1="377.74" x2="86.80" y2="377.74" stroke="#555" stroke-width="1.3"/>
<text x="76.7" y="382.84000000000003" font-size="15.3" fill="#262626" text-anchor="end">300</text>
<line x1="80.30" y1="343.22" x2="86.80" y2="343.22" stroke="#555" stroke-width="1.3"/>
<text x="76.7" y="348.32000000000005" font-size="15.3" fill="#262626" text-anchor="end">400</text>
<line x1="80.30" y1="308.70" x2="86.80" y2="308.70" stroke="#555" stroke-width="1.3"/>
<text x="76.7" y="313.8" font-size="15.3" fill="#262626" text-anchor="end">500</text>
<line x1="80.30" y1="481.30" x2="782.00" y2="481.30" stroke="#3a3a3a" stroke-width="1.3"/>
<line x1="127.90" y1="481.30" x2="127.90" y2="488.30" stroke="#555" stroke-width="1.3"/>
<text x="119.20" y="505.6" font-size="14.8" fill="#262626" textLength="17.60" lengthAdjust="spacingAndGlyphs">XA</text>
<line x1="215.10" y1="481.30" x2="215.10" y2="488.30" stroke="#555" stroke-width="1.3"/>
<text x="207.20" y="505.6" font-size="14.8" fill="#262626" textLength="16.80" lengthAdjust="spacingAndGlyphs">KA</text>
<line x1="302.30" y1="481.30" x2="302.30" y2="488.30" stroke="#555" stroke-width="1.3"/>
<text x="287.00" y="505.6" font-size="14.8" fill="#262626" textLength="30.70" lengthAdjust="spacingAndGlyphs">NAM</text>
<line x1="389.50" y1="481.30" x2="389.50" y2="488.30" stroke="#555" stroke-width="1.3"/>
<text x="374.10" y="505.6" font-size="14.8" fill="#262626" textLength="31.50" lengthAdjust="spacingAndGlyphs">MNA</text>
<line x1="476.70" y1="481.30" x2="476.70" y2="488.30" stroke="#555" stroke-width="1.3"/>
<text x="460.20" y="505.6" font-size="14.8" fill="#262626" textLength="31.50" lengthAdjust="spacingAndGlyphs">2-Py</text>
<line x1="563.90" y1="481.30" x2="563.90" y2="488.30" stroke="#555" stroke-width="1.3"/>
<text x="548.20" y="505.6" font-size="14.8" fill="#262626" textLength="29.90" lengthAdjust="spacingAndGlyphs">4-Py</text>
<line x1="651.10" y1="481.30" x2="651.10" y2="488.30" stroke="#555" stroke-width="1.3"/>
<text x="635.00" y="505.6" font-size="14.8" fill="#262626" textLength="31.00" lengthAdjust="spacingAndGlyphs">NNO</text>
<line x1="738.30" y1="481.30" x2="738.30" y2="488.30" stroke="#555" stroke-width="1.3"/>
<text x="723.30" y="505.6" font-size="14.8" fill="#262626" textLength="29.50" lengthAdjust="spacingAndGlyphs">SAM</text>
<rect x="91.45" y="445.60" width="7.7" height="35.70" fill="#fff" stroke="#3a3a3a" stroke-width="1.15"/>
<rect x="104.45" y="448.30" width="7.7" height="33.00" fill="#fff" stroke="#3a3a3a" stroke-width="1.15"/>
<rect x="117.55" y="436.20" width="7.7" height="45.10" fill="#fff" stroke="#3a3a3a" stroke-width="1.15"/>
<rect x="130.55" y="441.40" width="7.7" height="39.90" fill="#fff" stroke="#3a3a3a" stroke-width="1.15"/>
<rect x="143.65" y="447.20" width="7.7" height="34.10" fill="#fff" stroke="#3a3a3a" stroke-width="1.15"/>
<rect x="156.65" y="440.40" width="7.7" height="40.90" fill="#fff" stroke="#3a3a3a" stroke-width="1.15"/>
<rect x="178.65" y="448.30" width="7.7" height="33.00" fill="#fff" stroke="#3a3a3a" stroke-width="1.15"/>
<rect x="191.65" y="445.60" width="7.7" height="35.70" fill="#fff" stroke="#3a3a3a" stroke-width="1.15"/>
<rect x="204.75" y="436.20" width="7.7" height="45.10" fill="#fff" stroke="#3a3a3a" stroke-width="1.15"/>
<rect x="217.75" y="446.70" width="7.7" height="34.60" fill="#fff" stroke="#3a3a3a" stroke-width="1.15"/>
<rect x="230.85" y="443.50" width="7.7" height="37.80" fill="#fff" stroke="#3a3a3a" stroke-width="1.15"/>
<rect x="243.85" y="435.50" width="7.7" height="45.80" fill="#fff" stroke="#3a3a3a" stroke-width="1.15"/>
<rect x="265.85" y="445.70" width="7.7" height="35.60" fill="#fff" stroke="#3a3a3a" stroke-width="1.15"/>
<rect x="278.85" y="453.50" width="7.7" height="27.80" fill="#fff" stroke="#3a3a3a" stroke-width="1.15"/>
<rect x="291.95" y="366.70" width="7.7" height="114.60" fill="#fff" stroke="#3a3a3a" stroke-width="1.15"/>
<rect x="304.95" y="455.00" width="7.7" height="26.30" fill="#fff" stroke="#3a3a3a" stroke-width="1.15"/>
<rect x="318.05" y="447.30" width="7.7" height="34.00" fill="#fff" stroke="#3a3a3a" stroke-width="1.15"/>
<rect x="331.05" y="426.50" width="7.7" height="54.80" fill="#fff" stroke="#3a3a3a" stroke-width="1.15"/>
<rect x="353.05" y="446.20" width="7.7" height="35.10" fill="#fff" stroke="#3a3a3a" stroke-width="1.15"/>
<rect x="366.05" y="457.50" width="7.7" height="23.80" fill="#fff" stroke="#3a3a3a" stroke-width="1.15"/>
<rect x="379.15" y="453.00" width="7.7" height="28.30" fill="#fff" stroke="#3a3a3a" stroke-width="1.15"/>
<rect x="392.15" y="458.40" width="7.7" height="22.90" fill="#fff" stroke="#3a3a3a" stroke-width="1.15"/>
<rect x="405.25" y="465.30" width="7.7" height="16.00" fill="#fff" stroke="#3a3a3a" stroke-width="1.15"/>
<rect x="418.25" y="461.40" width="7.7" height="19.90" fill="#fff" stroke="#3a3a3a" stroke-width="1.15"/>
<rect x="440.25" y="446.20" width="7.7" height="35.10" fill="#fff" stroke="#3a3a3a" stroke-width="1.15"/>
<rect x="453.25" y="455.00" width="7.7" height="26.30" fill="#fff" stroke="#3a3a3a" stroke-width="1.15"/>
<rect x="466.35" y="454.50" width="7.7" height="26.80" fill="#fff" stroke="#3a3a3a" stroke-width="1.15"/>
<rect x="479.35" y="457.40" width="7.7" height="23.90" fill="#fff" stroke="#3a3a3a" stroke-width="1.15"/>
<rect x="492.45" y="467.40" width="7.7" height="13.90" fill="#fff" stroke="#3a3a3a" stroke-width="1.15"/>
<rect x="505.45" y="463.50" width="7.7" height="17.80" fill="#fff" stroke="#3a3a3a" stroke-width="1.15"/>
<rect x="527.45" y="445.60" width="7.7" height="35.70" fill="#fff" stroke="#3a3a3a" stroke-width="1.15"/>
<rect x="540.45" y="454.50" width="7.7" height="26.80" fill="#fff" stroke="#3a3a3a" stroke-width="1.15"/>
<rect x="553.55" y="458.20" width="7.7" height="23.10" fill="#fff" stroke="#3a3a3a" stroke-width="1.15"/>
<rect x="566.55" y="456.60" width="7.7" height="24.70" fill="#fff" stroke="#3a3a3a" stroke-width="1.15"/>
<rect x="579.65" y="468.20" width="7.7" height="13.10" fill="#fff" stroke="#3a3a3a" stroke-width="1.15"/>
<rect x="592.65" y="464.30" width="7.7" height="17.00" fill="#fff" stroke="#3a3a3a" stroke-width="1.15"/>
<rect x="614.65" y="446.20" width="7.7" height="35.10" fill="#fff" stroke="#3a3a3a" stroke-width="1.15"/>
<rect x="627.65" y="454.00" width="7.7" height="27.30" fill="#fff" stroke="#3a3a3a" stroke-width="1.15"/>
<rect x="640.75" y="433.00" width="7.7" height="48.30" fill="#fff" stroke="#3a3a3a" stroke-width="1.15"/>
<rect x="653.75" y="460.80" width="7.7" height="20.50" fill="#fff" stroke="#3a3a3a" stroke-width="1.15"/>
<rect x="666.85" y="459.80" width="7.7" height="21.50" fill="#fff" stroke="#3a3a3a" stroke-width="1.15"/>
<rect x="679.85" y="457.70" width="7.7" height="23.60" fill="#fff" stroke="#3a3a3a" stroke-width="1.15"/>
<rect x="701.85" y="449.10" width="7.7" height="32.20" fill="#fff" stroke="#3a3a3a" stroke-width="1.15"/>
<rect x="714.85" y="449.70" width="7.7" height="31.60" fill="#fff" stroke="#3a3a3a" stroke-width="1.15"/>
<rect x="727.95" y="447.00" width="7.7" height="34.30" fill="#fff" stroke="#3a3a3a" stroke-width="1.15"/>
<rect x="740.95" y="448.60" width="7.7" height="32.70" fill="#fff" stroke="#3a3a3a" stroke-width="1.15"/>
<rect x="754.05" y="447.50" width="7.7" height="33.80" fill="#fff" stroke="#3a3a3a" stroke-width="1.15"/>
<rect x="767.05" y="445.30" width="7.7" height="36.00" fill="#fff" stroke="#3a3a3a" stroke-width="1.15"/>
<circle cx="95.50" cy="438.20" r="2.9" fill="#050505"/>
<circle cx="93.50" cy="447.00" r="2.9" fill="#050505"/>
<circle cx="97.50" cy="447.00" r="2.9" fill="#050505"/>
<circle cx="94.00" cy="452.00" r="2.9" fill="#050505"/>
<circle cx="97.00" cy="452.00" r="2.9" fill="#050505"/>
<line x1="95.30" y1="441.60" x2="95.30" y2="449.60" stroke="#1e1e1e" stroke-width="1.0"/>
<line x1="93.30" y1="441.60" x2="97.30" y2="441.60" stroke="#1e1e1e" stroke-width="1.0"/>
<line x1="93.30" y1="449.60" x2="97.30" y2="449.60" stroke="#1e1e1e" stroke-width="1.0"/>
<polygon points="105.40,443.70 111.60,443.70 108.50,438.30" fill="#050505"/>
<polygon points="103.40,448.70 109.60,448.70 106.50,443.30" fill="#050505"/>
<polygon points="107.40,450.20 113.60,450.20 110.50,444.80" fill="#050505"/>
<polygon points="105.40,460.70 111.60,460.70 108.50,455.30" fill="#050505"/>
<line x1="108.30" y1="444.30" x2="108.30" y2="452.30" stroke="#1e1e1e" stroke-width="1.0"/>
<line x1="106.30" y1="444.30" x2="110.30" y2="444.30" stroke="#1e1e1e" stroke-width="1.0"/>
<line x1="106.30" y1="452.30" x2="110.30" y2="452.30" stroke="#1e1e1e" stroke-width="1.0"/>
<polygon points="118.40,419.80 124.60,419.80 121.50,425.20" fill="#050505"/>
<polygon points="118.40,429.30 124.60,429.30 121.50,434.70" fill="#050505"/>
<polygon points="115.90,434.80 122.10,434.80 119.00,440.20" fill="#050505"/>
<polygon points="118.40,449.80 124.60,449.80 121.50,455.20" fill="#050505"/>
<line x1="121.40" y1="431.20" x2="121.40" y2="441.20" stroke="#1e1e1e" stroke-width="1.0"/>
<line x1="119.40" y1="431.20" x2="123.40" y2="431.20" stroke="#1e1e1e" stroke-width="1.0"/>
<line x1="119.40" y1="441.20" x2="123.40" y2="441.20" stroke="#1e1e1e" stroke-width="1.0"/>
<circle cx="132.50" cy="436.50" r="2.9" fill="#ec2a2e"/>
<circle cx="135.50" cy="437.50" r="2.9" fill="#ec2a2e"/>
<circle cx="134.50" cy="449.50" r="2.9" fill="#ec2a2e"/>
<line x1="134.40" y1="438.40" x2="134.40" y2="444.40" stroke="#ec2a2e" stroke-width="1.0"/>
<line x1="132.40" y1="438.40" x2="136.40" y2="438.40" stroke="#ec2a2e" stroke-width="1.0"/>
<line x1="132.40" y1="444.40" x2="136.40" y2="444.40" stroke="#ec2a2e" stroke-width="1.0"/>
<polygon points="144.40,434.20 150.60,434.20 147.50,428.80" fill="#ec2a2e"/>
<polygon points="142.90,447.70 149.10,447.70 146.00,442.30" fill="#ec2a2e"/>
<polygon points="144.90,450.70 151.10,450.70 148.00,445.30" fill="#ec2a2e"/>
<polygon points="144.40,461.20 150.60,461.20 147.50,455.80" fill="#ec2a2e"/>
<line x1="147.50" y1="443.20" x2="147.50" y2="451.20" stroke="#ec2a2e" stroke-width="1.0"/>
<line x1="145.50" y1="443.20" x2="149.50" y2="443.20" stroke="#ec2a2e" stroke-width="1.0"/>
<line x1="145.50" y1="451.20" x2="149.50" y2="451.20" stroke="#ec2a2e" stroke-width="1.0"/>
<polygon points="154.90,425.30 161.10,425.30 158.00,430.70" fill="#ec2a2e"/>
<polygon points="158.90,427.80 165.10,427.80 162.00,433.20" fill="#ec2a2e"/>
<polygon points="154.90,437.30 161.10,437.30 158.00,442.70" fill="#ec2a2e"/>
<polygon points="158.90,438.30 165.10,438.30 162.00,443.70" fill="#ec2a2e"/>
<polygon points="157.90,446.30 164.10,446.30 161.00,451.70" fill="#ec2a2e"/>
<line x1="160.50" y1="435.40" x2="160.50" y2="445.40" stroke="#ec2a2e" stroke-width="1.0"/>
<line x1="158.50" y1="435.40" x2="162.50" y2="435.40" stroke="#ec2a2e" stroke-width="1.0"/>
<line x1="158.50" y1="445.40" x2="162.50" y2="445.40" stroke="#ec2a2e" stroke-width="1.0"/>
<circle cx="184.00" cy="440.00" r="2.9" fill="#050505"/>
<circle cx="180.00" cy="444.00" r="2.9" fill="#050505"/>
<circle cx="183.00" cy="446.50" r="2.9" fill="#050505"/>
<circle cx="181.00" cy="449.00" r="2.9" fill="#050505"/>
<circle cx="182.00" cy="451.00" r="2.9" fill="#050505"/>
<line x1="182.50" y1="446.30" x2="182.50" y2="450.30" stroke="#1e1e1e" stroke-width="1.0"/>
<line x1="180.50" y1="446.30" x2="184.50" y2="446.30" stroke="#1e1e1e" stroke-width="1.0"/>
<line x1="180.50" y1="450.30" x2="184.50" y2="450.30" stroke="#1e1e1e" stroke-width="1.0"/>
<polygon points="192.40,431.20 198.60,431.20 195.50,425.80" fill="#050505"/>
<polygon points="192.90,442.70 199.10,442.70 196.00,437.30" fill="#050505"/>
<polygon points="190.40,446.70 196.60,446.70 193.50,441.30" fill="#050505"/>
<polygon points="193.90,451.70 200.10,451.70 197.00,446.30" fill="#050505"/>
<polygon points="192.40,463.70 198.60,463.70 195.50,458.30" fill="#050505"/>
<line x1="195.50" y1="441.60" x2="195.50" y2="449.60" stroke="#1e1e1e" stroke-width="1.0"/>
<line x1="193.50" y1="441.60" x2="197.50" y2="441.60" stroke="#1e1e1e" stroke-width="1.0"/>
<line x1="193.50" y1="449.60" x2="197.50" y2="449.60" stroke="#1e1e1e" stroke-width="1.0"/>
<polygon points="205.40,415.30 211.60,415.30 208.50,420.70" fill="#050505"/>
<polygon points="201.90,425.80 208.10,425.80 205.00,431.20" fill="#050505"/>
<polygon points="206.90,424.80 213.10,424.80 210.00,430.20" fill="#050505"/>
<polygon points="205.40,440.30 211.60,440.30 208.50,445.70" fill="#050505"/>
<polygon points="205.40,452.80 211.60,452.80 208.50,458.20" fill="#050505"/>
<line x1="208.60" y1="430.20" x2="208.60" y2="442.20" stroke="#1e1e1e" stroke-width="1.0"/>
<line x1="206.60" y1="430.20" x2="210.60" y2="430.20" stroke="#1e1e1e" stroke-width="1.0"/>
<line x1="206.60" y1="442.20" x2="210.60" y2="442.20" stroke="#1e1e1e" stroke-width="1.0"/>
<circle cx="221.50" cy="439.50" r="2.9" fill="#ec2a2e"/>
<circle cx="220.00" cy="448.00" r="2.9" fill="#ec2a2e"/>
<circle cx="223.00" cy="449.00" r="2.9" fill="#ec2a2e"/>
<circle cx="218.00" cy="451.50" r="2.9" fill="#ec2a2e"/>
<line x1="221.60" y1="444.70" x2="221.60" y2="448.70" stroke="#ec2a2e" stroke-width="1.0"/>
<line x1="219.60" y1="444.70" x2="223.60" y2="444.70" stroke="#ec2a2e" stroke-width="1.0"/>
<line x1="219.60" y1="448.70" x2="223.60" y2="448.70" stroke="#ec2a2e" stroke-width="1.0"/>
<polygon points="231.40,436.70 237.60,436.70 234.50,431.30" fill="#ec2a2e"/>
<polygon points="231.40,441.70 237.60,441.70 234.50,436.30" fill="#ec2a2e"/>
<polygon points="227.90,452.20 234.10,452.20 231.00,446.80" fill="#ec2a2e"/>
<polygon points="234.90,452.20 241.10,452.20 238.00,446.80" fill="#ec2a2e"/>
<line x1="234.70" y1="439.50" x2="234.70" y2="447.50" stroke="#ec2a2e" stroke-width="1.0"/>
<line x1="232.70" y1="439.50" x2="236.70" y2="439.50" stroke="#ec2a2e" stroke-width="1.0"/>
<line x1="232.70" y1="447.50" x2="236.70" y2="447.50" stroke="#ec2a2e" stroke-width="1.0"/>
<polygon points="244.90,422.80 251.10,422.80 248.00,428.20" fill="#ec2a2e"/>
<polygon points="242.90,428.30 249.10,428.30 246.00,433.70" fill="#ec2a2e"/>
<polygon points="245.90,429.30 252.10,429.30 249.00,434.70" fill="#ec2a2e"/>
<polygon points="243.90,435.30 250.10,435.30 247.00,440.70" fill="#ec2a2e"/>
<polygon points="244.90,437.80 251.10,437.80 248.00,443.20" fill="#ec2a2e"/>
<line x1="247.70" y1="432.50" x2="247.70" y2="438.50" stroke="#ec2a2e" stroke-width="1.0"/>
<line x1="245.70" y1="432.50" x2="249.70" y2="432.50" stroke="#ec2a2e" stroke-width="1.0"/>
<line x1="245.70" y1="438.50" x2="249.70" y2="438.50" stroke="#ec2a2e" stroke-width="1.0"/>
<circle cx="269.50" cy="425.00" r="2.9" fill="#050505"/>
<circle cx="269.50" cy="442.00" r="2.9" fill="#050505"/>
<circle cx="269.50" cy="446.00" r="2.9" fill="#050505"/>
<circle cx="268.00" cy="456.00" r="2.9" fill="#050505"/>
<circle cx="270.50" cy="453.00" r="2.9" fill="#050505"/>
<line x1="269.70" y1="440.70" x2="269.70" y2="450.70" stroke="#1e1e1e" stroke-width="1.0"/>
<line x1="267.70" y1="440.70" x2="271.70" y2="440.70" stroke="#1e1e1e" stroke-width="1.0"/>
<line x1="267.70" y1="450.70" x2="271.70" y2="450.70" stroke="#1e1e1e" stroke-width="1.0"/>
<polygon points="277.90,446.70 284.10,446.70 281.00,441.30" fill="#050505"/>
<polygon points="281.90,446.70 288.10,446.70 285.00,441.30" fill="#050505"/>
<polygon points="279.90,454.70 286.10,454.70 283.00,449.30" fill="#050505"/>
<polygon points="277.90,458.70 284.10,458.70 281.00,453.30" fill="#050505"/>
<polygon points="279.60,470.70 285.80,470.70 282.70,465.30" fill="#050505"/>
<line x1="282.70" y1="449.50" x2="282.70" y2="457.50" stroke="#1e1e1e" stroke-width="1.0"/>
<line x1="280.70" y1="449.50" x2="284.70" y2="449.50" stroke="#1e1e1e" stroke-width="1.0"/>
<line x1="280.70" y1="457.50" x2="284.70" y2="457.50" stroke="#1e1e1e" stroke-width="1.0"/>
<polygon points="292.60,315.80 298.80,315.80 295.70,321.20" fill="#050505"/>
<polygon points="292.60,361.30 298.80,361.30 295.70,366.70" fill="#050505"/>
<polygon points="288.90,372.80 295.10,372.80 292.00,378.20" fill="#050505"/>
<polygon points="295.90,375.30 302.10,375.30 299.00,380.70" fill="#050505"/>
<polygon points="292.60,388.30 298.80,388.30 295.70,393.70" fill="#050505"/>
<line x1="295.80" y1="353.70" x2="295.80" y2="379.70" stroke="#1e1e1e" stroke-width="1.0"/>
<line x1="293.80" y1="353.70" x2="297.80" y2="353.70" stroke="#1e1e1e" stroke-width="1.0"/>
<line x1="293.80" y1="379.70" x2="297.80" y2="379.70" stroke="#1e1e1e" stroke-width="1.0"/>
<circle cx="308.50" cy="448.00" r="2.9" fill="#ec2a2e"/>
<circle cx="307.00" cy="455.00" r="2.9" fill="#ec2a2e"/>
<circle cx="309.50" cy="458.00" r="2.9" fill="#ec2a2e"/>
<circle cx="307.00" cy="461.00" r="2.9" fill="#ec2a2e"/>
<line x1="308.80" y1="452.00" x2="308.80" y2="458.00" stroke="#ec2a2e" stroke-width="1.0"/>
<line x1="306.80" y1="452.00" x2="310.80" y2="452.00" stroke="#ec2a2e" stroke-width="1.0"/>
<line x1="306.80" y1="458.00" x2="310.80" y2="458.00" stroke="#ec2a2e" stroke-width="1.0"/>
<polygon points="318.70,431.70 324.90,431.70 321.80,426.30" fill="#ec2a2e"/>
<polygon points="315.90,447.70 322.10,447.70 319.00,442.30" fill="#ec2a2e"/>
<polygon points="320.90,447.70 327.10,447.70 324.00,442.30" fill="#ec2a2e"/>
<polygon points="318.70,459.20 324.90,459.20 321.80,453.80" fill="#ec2a2e"/>
<line x1="321.90" y1="442.30" x2="321.90" y2="452.30" stroke="#ec2a2e" stroke-width="1.0"/>
<line x1="319.90" y1="442.30" x2="323.90" y2="442.30" stroke="#ec2a2e" stroke-width="1.0"/>
<line x1="319.90" y1="452.30" x2="323.90" y2="452.30" stroke="#ec2a2e" stroke-width="1.0"/>
<polygon points="331.90,409.30 338.10,409.30 335.00,414.70" fill="#ec2a2e"/>
<polygon points="329.90,420.30 336.10,420.30 333.00,425.70" fill="#ec2a2e"/>
<polygon points="333.90,420.30 340.10,420.30 337.00,425.70" fill="#ec2a2e"/>
<polygon points="331.90,441.80 338.10,441.80 335.00,447.20" fill="#ec2a2e"/>
<line x1="334.90" y1="420.50" x2="334.90" y2="432.50" stroke="#ec2a2e" stroke-width="1.0"/>
<line x1="332.90" y1="420.50" x2="336.90" y2="420.50" stroke="#ec2a2e" stroke-width="1.0"/>
<line x1="332.90" y1="432.50" x2="336.90" y2="432.50" stroke="#ec2a2e" stroke-width="1.0"/>
<circle cx="354.50" cy="435.50" r="2.9" fill="#050505"/>
<circle cx="356.50" cy="441.00" r="2.9" fill="#050505"/>
<circle cx="354.00" cy="448.00" r="2.9" fill="#050505"/>
<circle cx="358.00" cy="450.00" r="2.9" fill="#050505"/>
<circle cx="356.00" cy="453.00" r="2.9" fill="#050505"/>
<circle cx="360.00" cy="450.00" r="2.9" fill="#050505"/>
<line x1="356.90" y1="443.20" x2="356.90" y2="449.20" stroke="#1e1e1e" stroke-width="1.0"/>
<line x1="354.90" y1="443.20" x2="358.90" y2="443.20" stroke="#1e1e1e" stroke-width="1.0"/>
<line x1="354.90" y1="449.20" x2="358.90" y2="449.20" stroke="#1e1e1e" stroke-width="1.0"/>
<polygon points="364.90,450.70 371.10,450.70 368.00,445.30" fill="#050505"/>
<polygon points="367.90,452.70 374.10,452.70 371.00,447.30" fill="#050505"/>
<polygon points="364.90,457.70 371.10,457.70 368.00,452.30" fill="#050505"/>
<polygon points="367.90,462.70 374.10,462.70 371.00,457.30" fill="#050505"/>
<polygon points="367.40,471.20 373.60,471.20 370.50,465.80" fill="#050505"/>
<line x1="369.90" y1="453.50" x2="369.90" y2="461.50" stroke="#1e1e1e" stroke-width="1.0"/>
<line x1="367.90" y1="453.50" x2="371.90" y2="453.50" stroke="#1e1e1e" stroke-width="1.0"/>
<line x1="367.90" y1="461.50" x2="371.90" y2="461.50" stroke="#1e1e1e" stroke-width="1.0"/>
<polygon points="380.40,435.30 386.60,435.30 383.50,440.70" fill="#050505"/>
<polygon points="380.90,443.30 387.10,443.30 384.00,448.70" fill="#050505"/>
<polygon points="376.90,449.30 383.10,449.30 380.00,454.70" fill="#050505"/>
<polygon points="379.90,452.30 386.10,452.30 383.00,457.70" fill="#050505"/>
<polygon points="376.90,459.30 383.10,459.30 380.00,464.70" fill="#050505"/>
<polygon points="380.90,459.30 387.10,459.30 384.00,464.70" fill="#050505"/>
<line x1="383.00" y1="449.00" x2="383.00" y2="457.00" stroke="#1e1e1e" stroke-width="1.0"/>
<line x1="381.00" y1="449.00" x2="385.00" y2="449.00" stroke="#1e1e1e" stroke-width="1.0"/>
<line x1="381.00" y1="457.00" x2="385.00" y2="457.00" stroke="#1e1e1e" stroke-width="1.0"/>
<circle cx="394.00" cy="453.00" r="2.9" fill="#ec2a2e"/>
<circle cx="396.50" cy="457.00" r="2.9" fill="#ec2a2e"/>
<circle cx="394.00" cy="459.00" r="2.9" fill="#ec2a2e"/>
<circle cx="398.00" cy="460.00" r="2.9" fill="#ec2a2e"/>
<line x1="396.00" y1="456.40" x2="396.00" y2="460.40" stroke="#ec2a2e" stroke-width="1.0"/>
<line x1="394.00" y1="456.40" x2="398.00" y2="456.40" stroke="#ec2a2e" stroke-width="1.0"/>
<line x1="394.00" y1="460.40" x2="398.00" y2="460.40" stroke="#ec2a2e" stroke-width="1.0"/>
<polygon points="404.90,466.70 411.10,466.70 408.00,461.30" fill="#ec2a2e"/>
<polygon points="407.90,466.70 414.10,466.70 411.00,461.30" fill="#ec2a2e"/>
<polygon points="405.40,470.70 411.60,470.70 408.50,465.30" fill="#ec2a2e"/>
<line x1="409.10" y1="463.30" x2="409.10" y2="467.30" stroke="#ec2a2e" stroke-width="1.0"/>
<line x1="407.10" y1="463.30" x2="411.10" y2="463.30" stroke="#ec2a2e" stroke-width="1.0"/>
<line x1="407.10" y1="467.30" x2="411.10" y2="467.30" stroke="#ec2a2e" stroke-width="1.0"/>
<polygon points="416.90,451.30 423.10,451.30 420.00,456.70" fill="#ec2a2e"/>
<polygon points="420.90,450.30 427.10,450.30 424.00,455.70" fill="#ec2a2e"/>
<polygon points="419.90,458.30 426.10,458.30 423.00,463.70" fill="#ec2a2e"/>
<polygon points="417.90,463.30 424.10,463.30 421.00,468.70" fill="#ec2a2e"/>
<line x1="422.10" y1="458.40" x2="422.10" y2="464.40" stroke="#ec2a2e" stroke-width="1.0"/>
<line x1="420.10" y1="458.40" x2="424.10" y2="458.40" stroke="#ec2a2e" stroke-width="1.0"/>
<line x1="420.10" y1="464.40" x2="424.10" y2="464.40" stroke="#ec2a2e" stroke-width="1.0"/>
<circle cx="443.00" cy="430.00" r="2.9" fill="#050505"/>
<circle cx="442.00" cy="447.00" r="2.9" fill="#050505"/>
<circle cx="445.00" cy="448.00" r="2.9" fill="#050505"/>
<circle cx="442.00" cy="452.00" r="2.9" fill="#050505"/>
<circle cx="444.00" cy="453.00" r="2.9" fill="#050505"/>
<line x1="444.10" y1="441.20" x2="444.10" y2="451.20" stroke="#1e1e1e" stroke-width="1.0"/>
<line x1="442.10" y1="441.20" x2="446.10" y2="441.20" stroke="#1e1e1e" stroke-width="1.0"/>
<line x1="442.10" y1="451.20" x2="446.10" y2="451.20" stroke="#1e1e1e" stroke-width="1.0"/>
<polygon points="454.90,451.70 461.10,451.70 458.00,446.30" fill="#050505"/>
<polygon points="450.90,456.20 457.10,456.20 454.00,450.80" fill="#050505"/>
<polygon points="453.90,457.70 460.10,457.70 457.00,452.30" fill="#050505"/>
<polygon points="453.40,464.70 459.60,464.70 456.50,459.30" fill="#050505"/>
<line x1="457.10" y1="452.00" x2="457.10" y2="458.00" stroke="#1e1e1e" stroke-width="1.0"/>
<line x1="455.10" y1="452.00" x2="459.10" y2="452.00" stroke="#1e1e1e" stroke-width="1.0"/>
<line x1="455.10" y1="458.00" x2="459.10" y2="458.00" stroke="#1e1e1e" stroke-width="1.0"/>
<polygon points="463.90,441.80 470.10,441.80 467.00,447.20" fill="#050505"/>
<polygon points="467.90,443.30 474.10,443.30 471.00,448.70" fill="#050505"/>
<polygon points="466.40,449.30 472.60,449.30 469.50,454.70" fill="#050505"/>
<polygon points="463.90,456.30 470.10,456.30 467.00,461.70" fill="#050505"/>
<polygon points="467.90,457.30 474.10,457.30 471.00,462.70" fill="#050505"/>
<line x1="470.20" y1="450.50" x2="470.20" y2="458.50" stroke="#1e1e1e" stroke-width="1.0"/>
<line x1="468.20" y1="450.50" x2="472.20" y2="450.50" stroke="#1e1e1e" stroke-width="1.0"/>
<line x1="468.20" y1="458.50" x2="472.20" y2="458.50" stroke="#1e1e1e" stroke-width="1.0"/>
<circle cx="484.00" cy="451.00" r="2.9" fill="#ec2a2e"/>
<circle cx="481.00" cy="455.00" r="2.9" fill="#ec2a2e"/>
<circle cx="482.00" cy="458.00" r="2.9" fill="#ec2a2e"/>
<circle cx="481.00" cy="462.00" r="2.9" fill="#ec2a2e"/>
<circle cx="484.00" cy="460.00" r="2.9" fill="#ec2a2e"/>
<line x1="483.20" y1="455.40" x2="483.20" y2="459.40" stroke="#ec2a2e" stroke-width="1.0"/>
<line x1="481.20" y1="455.40" x2="485.20" y2="455.40" stroke="#ec2a2e" stroke-width="1.0"/>
<line x1="481.20" y1="459.40" x2="485.20" y2="459.40" stroke="#ec2a2e" stroke-width="1.0"/>
<polygon points="492.40,462.70 498.60,462.70 495.50,457.30" fill="#ec2a2e"/>
<polygon points="492.40,466.70 498.60,466.70 495.50,461.30" fill="#ec2a2e"/>
<polygon points="492.40,468.70 498.60,468.70 495.50,463.30" fill="#ec2a2e"/>
<polygon points="492.40,476.70 498.60,476.70 495.50,471.30" fill="#ec2a2e"/>
<line x1="496.30" y1="464.90" x2="496.30" y2="469.90" stroke="#ec2a2e" stroke-width="1.0"/>
<line x1="494.30" y1="464.90" x2="498.30" y2="464.90" stroke="#ec2a2e" stroke-width="1.0"/>
<line x1="494.30" y1="469.90" x2="498.30" y2="469.90" stroke="#ec2a2e" stroke-width="1.0"/>
<polygon points="503.90,452.30 510.10,452.30 507.00,457.70" fill="#ec2a2e"/>
<polygon points="507.90,456.30 514.10,456.30 511.00,461.70" fill="#ec2a2e"/>
<polygon points="505.40,463.30 511.60,463.30 508.50,468.70" fill="#ec2a2e"/>
<polygon points="505.40,466.30 511.60,466.30 508.50,471.70" fill="#ec2a2e"/>
<line x1="509.30" y1="461.00" x2="509.30" y2="466.00" stroke="#ec2a2e" stroke-width="1.0"/>
<line x1="507.30" y1="461.00" x2="511.30" y2="461.00" stroke="#ec2a2e" stroke-width="1.0"/>
<line x1="507.30" y1="466.00" x2="511.30" y2="466.00" stroke="#ec2a2e" stroke-width="1.0"/>
<circle cx="530.00" cy="433.50" r="2.9" fill="#050505"/>
<circle cx="529.00" cy="443.50" r="2.9" fill="#050505"/>
<circle cx="532.00" cy="446.00" r="2.9" fill="#050505"/>
<circle cx="530.00" cy="450.00" r="2.9" fill="#050505"/>
<circle cx="530.00" cy="456.00" r="2.9" fill="#050505"/>
<line x1="531.30" y1="441.60" x2="531.30" y2="449.60" stroke="#1e1e1e" stroke-width="1.0"/>
<line x1="529.30" y1="441.60" x2="533.30" y2="441.60" stroke="#1e1e1e" stroke-width="1.0"/>
<line x1="529.30" y1="449.60" x2="533.30" y2="449.60" stroke="#1e1e1e" stroke-width="1.0"/>
<polygon points="541.90,451.70 548.10,451.70 545.00,446.30" fill="#050505"/>
<polygon points="538.90,457.70 545.10,457.70 542.00,452.30" fill="#050505"/>
<polygon points="540.90,460.70 547.10,460.70 544.00,455.30" fill="#050505"/>
<polygon points="537.90,464.70 544.10,464.70 541.00,459.30" fill="#050505"/>
<line x1="544.30" y1="451.50" x2="544.30" y2="457.50" stroke="#1e1e1e" stroke-width="1.0"/>
<line x1="542.30" y1="451.50" x2="546.30" y2="451.50" stroke="#1e1e1e" stroke-width="1.0"/>
<line x1="542.30" y1="457.50" x2="546.30" y2="457.50" stroke="#1e1e1e" stroke-width="1.0"/>
<polygon points="553.90,445.80 560.10,445.80 557.00,451.20" fill="#050505"/>
<polygon points="552.90,451.30 559.10,451.30 556.00,456.70" fill="#050505"/>
<polygon points="555.90,456.30 562.10,456.30 559.00,461.70" fill="#050505"/>
<polygon points="552.90,460.30 559.10,460.30 556.00,465.70" fill="#050505"/>
<polygon points="553.90,465.30 560.10,465.30 557.00,470.70" fill="#050505"/>
<line x1="557.40" y1="454.70" x2="557.40" y2="461.70" stroke="#1e1e1e" stroke-width="1.0"/>
<line x1="555.40" y1="454.70" x2="559.40" y2="454.70" stroke="#1e1e1e" stroke-width="1.0"/>
<line x1="555.40" y1="461.70" x2="559.40" y2="461.70" stroke="#1e1e1e" stroke-width="1.0"/>
<circle cx="569.50" cy="446.50" r="2.9" fill="#ec2a2e"/>
<circle cx="569.00" cy="455.00" r="2.9" fill="#ec2a2e"/>
<circle cx="571.00" cy="458.00" r="2.9" fill="#ec2a2e"/>
<circle cx="569.00" cy="461.00" r="2.9" fill="#ec2a2e"/>
<line x1="570.40" y1="453.60" x2="570.40" y2="459.60" stroke="#ec2a2e" stroke-width="1.0"/>
<line x1="568.40" y1="453.60" x2="572.40" y2="453.60" stroke="#ec2a2e" stroke-width="1.0"/>
<line x1="568.40" y1="459.60" x2="572.40" y2="459.60" stroke="#ec2a2e" stroke-width="1.0"/>
<polygon points="579.40,467.70 585.60,467.70 582.50,462.30" fill="#ec2a2e"/>
<polygon points="579.40,471.70 585.60,471.70 582.50,466.30" fill="#ec2a2e"/>
<line x1="583.50" y1="466.70" x2="583.50" y2="469.70" stroke="#ec2a2e" stroke-width="1.0"/>
<line x1="581.50" y1="466.70" x2="585.50" y2="466.70" stroke="#ec2a2e" stroke-width="1.0"/>
<line x1="581.50" y1="469.70" x2="585.50" y2="469.70" stroke="#ec2a2e" stroke-width="1.0"/>
<polygon points="592.40,456.30 598.60,456.30 595.50,461.70" fill="#ec2a2e"/>
<polygon points="592.40,463.30 598.60,463.30 595.50,468.70" fill="#ec2a2e"/>
<polygon points="592.40,468.30 598.60,468.30 595.50,473.70" fill="#ec2a2e"/>
<line x1="596.50" y1="461.80" x2="596.50" y2="466.80" stroke="#ec2a2e" stroke-width="1.0"/>
<line x1="594.50" y1="461.80" x2="598.50" y2="461.80" stroke="#ec2a2e" stroke-width="1.0"/>
<line x1="594.50" y1="466.80" x2="598.50" y2="466.80" stroke="#ec2a2e" stroke-width="1.0"/>
<circle cx="618.00" cy="417.50" r="2.9" fill="#050505"/>
<circle cx="618.00" cy="443.00" r="2.9" fill="#050505"/>
<circle cx="616.50" cy="455.00" r="2.9" fill="#050505"/>
<circle cx="619.50" cy="455.00" r="2.9" fill="#050505"/>
<circle cx="617.00" cy="458.00" r="2.9" fill="#050505"/>
<line x1="618.50" y1="438.20" x2="618.50" y2="454.20" stroke="#1e1e1e" stroke-width="1.0"/>
<line x1="616.50" y1="438.20" x2="620.50" y2="438.20" stroke="#1e1e1e" stroke-width="1.0"/>
<line x1="616.50" y1="454.20" x2="620.50" y2="454.20" stroke="#1e1e1e" stroke-width="1.0"/>
<polygon points="625.90,451.70 632.10,451.70 629.00,446.30" fill="#050505"/>
<polygon points="629.90,451.70 636.10,451.70 633.00,446.30" fill="#050505"/>
<polygon points="627.90,457.70 634.10,457.70 631.00,452.30" fill="#050505"/>
<polygon points="625.90,463.70 632.10,463.70 629.00,458.30" fill="#050505"/>
<polygon points="629.90,463.70 636.10,463.70 633.00,458.30" fill="#050505"/>
<line x1="631.50" y1="451.00" x2="631.50" y2="457.00" stroke="#1e1e1e" stroke-width="1.0"/>
<line x1="629.50" y1="451.00" x2="633.50" y2="451.00" stroke="#1e1e1e" stroke-width="1.0"/>
<line x1="629.50" y1="457.00" x2="633.50" y2="457.00" stroke="#1e1e1e" stroke-width="1.0"/>
<polygon points="640.90,413.30 647.10,413.30 644.00,418.70" fill="#050505"/>
<polygon points="638.90,426.80 645.10,426.80 642.00,432.20" fill="#050505"/>
<polygon points="642.90,426.80 649.10,426.80 646.00,432.20" fill="#050505"/>
<polygon points="637.90,438.30 644.10,438.30 641.00,443.70" fill="#050505"/>
<polygon points="643.90,438.30 650.10,438.30 647.00,443.70" fill="#050505"/>
<line x1="644.60" y1="428.00" x2="644.60" y2="438.00" stroke="#1e1e1e" stroke-width="1.0"/>
<line x1="642.60" y1="428.00" x2="646.60" y2="428.00" stroke="#1e1e1e" stroke-width="1.0"/>
<line x1="642.60" y1="438.00" x2="646.60" y2="438.00" stroke="#1e1e1e" stroke-width="1.0"/>
<circle cx="659.00" cy="454.00" r="2.9" fill="#ec2a2e"/>
<circle cx="655.00" cy="457.00" r="2.9" fill="#ec2a2e"/>
<circle cx="657.00" cy="460.00" r="2.9" fill="#ec2a2e"/>
<circle cx="655.00" cy="463.00" r="2.9" fill="#ec2a2e"/>
<circle cx="657.00" cy="464.50" r="2.9" fill="#ec2a2e"/>
<line x1="657.60" y1="458.80" x2="657.60" y2="462.80" stroke="#ec2a2e" stroke-width="1.0"/>
<line x1="655.60" y1="458.80" x2="659.60" y2="458.80" stroke="#ec2a2e" stroke-width="1.0"/>
<line x1="655.60" y1="462.80" x2="659.60" y2="462.80" stroke="#ec2a2e" stroke-width="1.0"/>
<polygon points="666.90,460.20 673.10,460.20 670.00,454.80" fill="#ec2a2e"/>
<polygon points="664.90,465.70 671.10,465.70 668.00,460.30" fill="#ec2a2e"/>
<polygon points="667.90,465.70 674.10,465.70 671.00,460.30" fill="#ec2a2e"/>
<line x1="670.70" y1="458.30" x2="670.70" y2="461.30" stroke="#ec2a2e" stroke-width="1.0"/>
<line x1="668.70" y1="458.30" x2="672.70" y2="458.30" stroke="#ec2a2e" stroke-width="1.0"/>
<line x1="668.70" y1="461.30" x2="672.70" y2="461.30" stroke="#ec2a2e" stroke-width="1.0"/>
<polygon points="680.40,443.30 686.60,443.30 683.50,448.70" fill="#ec2a2e"/>
<polygon points="677.90,452.30 684.10,452.30 681.00,457.70" fill="#ec2a2e"/>
<polygon points="682.90,454.30 689.10,454.30 686.00,459.70" fill="#ec2a2e"/>
<polygon points="677.90,459.30 684.10,459.30 681.00,464.70" fill="#ec2a2e"/>
<line x1="683.70" y1="454.70" x2="683.70" y2="460.70" stroke="#ec2a2e" stroke-width="1.0"/>
<line x1="681.70" y1="454.70" x2="685.70" y2="454.70" stroke="#ec2a2e" stroke-width="1.0"/>
<line x1="681.70" y1="460.70" x2="685.70" y2="460.70" stroke="#ec2a2e" stroke-width="1.0"/>
<circle cx="706.00" cy="442.00" r="2.9" fill="#050505"/>
<circle cx="704.00" cy="445.00" r="2.9" fill="#050505"/>
<circle cx="708.00" cy="447.00" r="2.9" fill="#050505"/>
<circle cx="704.00" cy="450.00" r="2.9" fill="#050505"/>
<circle cx="707.00" cy="451.00" r="2.9" fill="#050505"/>
<line x1="705.70" y1="447.60" x2="705.70" y2="450.60" stroke="#1e1e1e" stroke-width="1.0"/>
<line x1="703.70" y1="447.60" x2="707.70" y2="447.60" stroke="#1e1e1e" stroke-width="1.0"/>
<line x1="703.70" y1="450.60" x2="707.70" y2="450.60" stroke="#1e1e1e" stroke-width="1.0"/>
<polygon points="715.40,449.70 721.60,449.70 718.50,444.30" fill="#050505"/>
<polygon points="716.90,452.70 723.10,452.70 720.00,447.30" fill="#050505"/>
<line x1="718.70" y1="448.70" x2="718.70" y2="450.70" stroke="#1e1e1e" stroke-width="1.0"/>
<line x1="716.70" y1="448.70" x2="720.70" y2="448.70" stroke="#1e1e1e" stroke-width="1.0"/>
<line x1="716.70" y1="450.70" x2="720.70" y2="450.70" stroke="#1e1e1e" stroke-width="1.0"/>
<polygon points="728.40,435.30 734.60,435.30 731.50,440.70" fill="#050505"/>
<polygon points="728.40,439.30 734.60,439.30 731.50,444.70" fill="#050505"/>
<polygon points="725.90,443.30 732.10,443.30 729.00,448.70" fill="#050505"/>
<polygon points="730.90,443.30 737.10,443.30 734.00,448.70" fill="#050505"/>
<line x1="731.80" y1="445.00" x2="731.80" y2="449.00" stroke="#1e1e1e" stroke-width="1.0"/>
<line x1="729.80" y1="445.00" x2="733.80" y2="445.00" stroke="#1e1e1e" stroke-width="1.0"/>
<line x1="729.80" y1="449.00" x2="733.80" y2="449.00" stroke="#1e1e1e" stroke-width="1.0"/>
<circle cx="745.00" cy="441.00" r="2.9" fill="#ec2a2e"/>
<circle cx="742.00" cy="443.00" r="2.9" fill="#ec2a2e"/>
<circle cx="746.00" cy="453.00" r="2.9" fill="#ec2a2e"/>
<circle cx="742.00" cy="456.00" r="2.9" fill="#ec2a2e"/>
<line x1="744.80" y1="443.60" x2="744.80" y2="453.60" stroke="#ec2a2e" stroke-width="1.0"/>
<line x1="742.80" y1="443.60" x2="746.80" y2="443.60" stroke="#ec2a2e" stroke-width="1.0"/>
<line x1="742.80" y1="453.60" x2="746.80" y2="453.60" stroke="#ec2a2e" stroke-width="1.0"/>
<polygon points="754.40,441.20 760.60,441.20 757.50,435.80" fill="#ec2a2e"/>
<polygon points="751.90,450.70 758.10,450.70 755.00,445.30" fill="#ec2a2e"/>
<polygon points="755.90,450.70 762.10,450.70 759.00,445.30" fill="#ec2a2e"/>
<polygon points="754.40,458.70 760.60,458.70 757.50,453.30" fill="#ec2a2e"/>
<line x1="757.90" y1="443.50" x2="757.90" y2="451.50" stroke="#ec2a2e" stroke-width="1.0"/>
<line x1="755.90" y1="443.50" x2="759.90" y2="443.50" stroke="#ec2a2e" stroke-width="1.0"/>
<line x1="755.90" y1="451.50" x2="759.90" y2="451.50" stroke="#ec2a2e" stroke-width="1.0"/>
<polygon points="766.90,437.30 773.10,437.30 770.00,442.70" fill="#ec2a2e"/>
<polygon points="767.90,441.30 774.10,441.30 771.00,446.70" fill="#ec2a2e"/>
<polygon points="766.90,447.30 773.10,447.30 770.00,452.70" fill="#ec2a2e"/>
<line x1="770.90" y1="443.30" x2="770.90" y2="447.30" stroke="#ec2a2e" stroke-width="1.0"/>
<line x1="768.90" y1="443.30" x2="772.90" y2="443.30" stroke="#ec2a2e" stroke-width="1.0"/>
<line x1="768.90" y1="447.30" x2="772.90" y2="447.30" stroke="#ec2a2e" stroke-width="1.0"/>
<path d="M269.2,112.5 V105.5 H295.5 V112.5" fill="none" stroke="#333" stroke-width="1.2"/>
<text x="268.80" y="99.9" font-size="14.8" fill="#262626" textLength="27.40" lengthAdjust="spacingAndGlyphs">0.05</text>
<path d="M269.5,306.5 V299.8 H295.3 V306.5" fill="none" stroke="#333" stroke-width="1.2"/>
<text x="264.00" y="294.7" font-size="14.8" fill="#262626" textLength="36.41" lengthAdjust="spacingAndGlyphs">0.005</text>
<path d="M308.9,401.8 V394.9 H334.4 V401.8" fill="none" stroke="#333" stroke-width="1.2"/>
<text x="307.90" y="389.2" font-size="14.8" fill="#262626" textLength="27.00" lengthAdjust="spacingAndGlyphs">0.05</text>
<line x1="83.90" y1="741.40" x2="83.90" y2="975.40" stroke="#666" stroke-width="1.3"/>
<line x1="77.40" y1="975.40" x2="83.90" y2="975.40" stroke="#555" stroke-width="1.3"/>
<text x="74.4" y="980.5" font-size="15.3" fill="#262626" text-anchor="end">0</text>
<line x1="77.40" y1="929.80" x2="83.90" y2="929.80" stroke="#555" stroke-width="1.3"/>
<text x="74.4" y="934.9" font-size="15.3" fill="#262626" text-anchor="end">100</text>
<line x1="77.40" y1="882.50" x2="83.90" y2="882.50" stroke="#555" stroke-width="1.3"/>
<text x="74.4" y="887.6" font-size="15.3" fill="#262626" text-anchor="end">200</text>
<line x1="77.40" y1="835.80" x2="83.90" y2="835.80" stroke="#555" stroke-width="1.3"/>
<text x="74.4" y="840.9" font-size="15.3" fill="#262626" text-anchor="end">300</text>
<line x1="77.40" y1="789.10" x2="83.90" y2="789.10" stroke="#555" stroke-width="1.3"/>
<text x="74.4" y="794.2" font-size="15.3" fill="#262626" text-anchor="end">400</text>
<line x1="77.40" y1="742.10" x2="83.90" y2="742.10" stroke="#555" stroke-width="1.3"/>
<text x="74.4" y="747.2" font-size="15.3" fill="#262626" text-anchor="end">500</text>
<line x1="77.40" y1="975.40" x2="711.80" y2="975.40" stroke="#222" stroke-width="1.3"/>
<line x1="110.40" y1="975.40" x2="110.40" y2="982.40" stroke="#555" stroke-width="1.3"/>
<text x="94.90" y="999.3" font-size="14.8" fill="#262626" textLength="30.70" lengthAdjust="spacingAndGlyphs">NAM</text>
<line x1="167.80" y1="975.40" x2="167.80" y2="982.40" stroke="#555" stroke-width="1.3"/>
<text x="151.40" y="999.3" font-size="14.8" fill="#262626" textLength="30.70" lengthAdjust="spacingAndGlyphs">MNA</text>
<line x1="225.20" y1="975.40" x2="225.20" y2="982.40" stroke="#555" stroke-width="1.3"/>
<text x="208.70" y="999.3" font-size="14.8" fill="#262626" textLength="31.50" lengthAdjust="spacingAndGlyphs">NNO</text>
<line x1="282.60" y1="975.40" x2="282.60" y2="982.40" stroke="#555" stroke-width="1.3"/>
<text x="267.20" y="999.3" font-size="14.8" fill="#262626" textLength="30.70" lengthAdjust="spacingAndGlyphs">2-Py</text>
<line x1="340.00" y1="975.40" x2="340.00" y2="982.40" stroke="#555" stroke-width="1.3"/>
<text x="324.00" y="999.3" font-size="14.8" fill="#262626" textLength="30.70" lengthAdjust="spacingAndGlyphs">4-Py</text>
<line x1="397.40" y1="975.40" x2="397.40" y2="982.40" stroke="#555" stroke-width="1.3"/>
<text x="388.70" y="999.3" font-size="14.8" fill="#262626" textLength="17.60" lengthAdjust="spacingAndGlyphs">XA</text>
<line x1="454.80" y1="975.40" x2="454.80" y2="982.40" stroke="#555" stroke-width="1.3"/>
<text x="445.50" y="999.3" font-size="14.8" fill="#262626" textLength="17.20" lengthAdjust="spacingAndGlyphs">KA</text>
<line x1="512.20" y1="975.40" x2="512.20" y2="982.40" stroke="#555" stroke-width="1.3"/>
<text x="499.60" y="999.3" font-size="14.8" fill="#262626" textLength="25.70" lengthAdjust="spacingAndGlyphs">Kyn</text>
<line x1="569.60" y1="975.40" x2="569.60" y2="982.40" stroke="#555" stroke-width="1.3"/>
<text x="556.80" y="999.3" font-size="14.8" fill="#262626" textLength="23.40" lengthAdjust="spacingAndGlyphs">Trp</text>
<line x1="627.00" y1="975.40" x2="627.00" y2="982.40" stroke="#555" stroke-width="1.3"/>
<text x="612.10" y="999.3" font-size="14.8" fill="#262626" textLength="29.40" lengthAdjust="spacingAndGlyphs">SAM</text>
<line x1="684.40" y1="975.40" x2="684.40" y2="982.40" stroke="#555" stroke-width="1.3"/>
<text x="670.60" y="999.3" font-size="14.8" fill="#262626" textLength="27.40" lengthAdjust="spacingAndGlyphs">SAH</text>
<text transform="translate(14.0,958.70) rotate(-90)" font-size="16" fill="#262626" textLength="199.81" lengthAdjust="spacingAndGlyphs">Value of each metabolite/Cre</text>
<text transform="translate(34.0,931.00) rotate(-90)" font-size="16" fill="#262626" textLength="144.00" lengthAdjust="spacingAndGlyphs">for mean of PFD+ (%)</text>
<polygon points="310.00,730.00 316.60,730.00 313.30,724.00" fill="#050505"/>
<polygon points="310.00,744.80 316.60,744.80 313.30,750.80" fill="#050505"/>
<text x="323.50" y="732.8" font-size="15.6" fill="#262626" textLength="169.50" lengthAdjust="spacingAndGlyphs">Patients with PFD (PFD+)</text>
<text x="323.50" y="753.9" font-size="15.6" fill="#262626" textLength="193.71" lengthAdjust="spacingAndGlyphs">Patients without PFD (PFD–)</text>
<polygon points="95.20,798.90 102.00,798.90 98.60,793.10" fill="#050505"/>
<polygon points="91.70,930.70 98.50,930.70 95.10,924.90" fill="#050505"/>
<polygon points="99.50,926.40 106.30,926.40 102.90,920.60" fill="#050505"/>
<polygon points="95.60,938.70 102.40,938.70 99.00,932.90" fill="#050505"/>
<polygon points="91.70,946.30 98.50,946.30 95.10,940.50" fill="#050505"/>
<polygon points="99.50,946.30 106.30,946.30 102.90,940.50" fill="#050505"/>
<polygon points="91.70,954.20 98.50,954.20 95.10,948.40" fill="#050505"/>
<polygon points="99.50,953.40 106.30,953.40 102.90,947.60" fill="#050505"/>
<polygon points="91.70,966.10 98.50,966.10 95.10,960.30" fill="#050505"/>
<polygon points="99.50,964.20 106.30,964.20 102.90,958.40" fill="#050505"/>
<polygon points="114.00,895.90 120.80,895.90 117.40,901.70" fill="#050505"/>
<polygon points="114.00,902.90 120.80,902.90 117.40,908.70" fill="#050505"/>
<polygon points="121.70,901.50 128.50,901.50 125.10,907.30" fill="#050505"/>
<polygon points="113.20,933.70 120.00,933.70 116.60,939.50" fill="#050505"/>
<polygon points="121.60,929.30 128.40,929.30 125.00,935.10" fill="#050505"/>
<polygon points="121.60,936.10 128.40,936.10 125.00,941.90" fill="#050505"/>
<polygon points="121.60,944.00 128.40,944.00 125.00,949.80" fill="#050505"/>
<polygon points="113.20,949.60 120.00,949.60 116.60,955.40" fill="#050505"/>
<polygon points="121.60,950.40 128.40,950.40 125.00,956.20" fill="#050505"/>
<polygon points="117.40,961.50 124.20,961.50 120.80,967.30" fill="#050505"/>
<line x1="92.00" y1="929.40" x2="106.00" y2="929.40" stroke="#2a2a2a" stroke-width="1.15"/>
<line x1="99.00" y1="913.90" x2="99.00" y2="943.80" stroke="#2a2a2a" stroke-width="1.0"/>
<line x1="95.50" y1="913.90" x2="102.50" y2="913.90" stroke="#2a2a2a" stroke-width="1.15"/>
<line x1="95.50" y1="943.80" x2="102.50" y2="943.80" stroke="#2a2a2a" stroke-width="1.15"/>
<line x1="114.30" y1="934.80" x2="128.30" y2="934.80" stroke="#2a2a2a" stroke-width="1.15"/>
<line x1="121.30" y1="927.40" x2="121.30" y2="942.60" stroke="#2a2a2a" stroke-width="1.0"/>
<line x1="117.80" y1="927.40" x2="124.80" y2="927.40" stroke="#2a2a2a" stroke-width="1.15"/>
<line x1="117.80" y1="942.60" x2="124.80" y2="942.60" stroke="#2a2a2a" stroke-width="1.15"/>
<polygon points="153.00,832.80 159.80,832.80 156.40,827.00" fill="#050505"/>
<polygon points="153.00,857.60 159.80,857.60 156.40,851.80" fill="#050505"/>
<polygon points="153.00,926.30 159.80,926.30 156.40,920.50" fill="#050505"/>
<polygon points="153.00,940.30 159.80,940.30 156.40,934.50" fill="#050505"/>
<polygon points="153.00,945.10 159.80,945.10 156.40,939.30" fill="#050505"/>
<polygon points="149.10,962.60 155.90,962.60 152.50,956.80" fill="#050505"/>
<polygon points="157.10,960.00 163.90,960.00 160.50,954.20" fill="#050505"/>
<polygon points="152.60,964.50 159.40,964.50 156.00,958.70" fill="#050505"/>
<polygon points="148.60,968.90 155.40,968.90 152.00,963.10" fill="#050505"/>
<polygon points="156.60,967.30 163.40,967.30 160.00,961.50" fill="#050505"/>
<polygon points="174.80,893.10 181.60,893.10 178.20,898.90" fill="#050505"/>
<polygon points="174.80,918.90 181.60,918.90 178.20,924.70" fill="#050505"/>
<polygon points="179.10,929.70 185.90,929.70 182.50,935.50" fill="#050505"/>
<polygon points="171.10,935.60 177.90,935.60 174.50,941.40" fill="#050505"/>
<polygon points="174.80,934.00 181.60,934.00 178.20,939.80" fill="#050505"/>
<polygon points="174.80,942.80 181.60,942.80 178.20,948.60" fill="#050505"/>
<polygon points="170.60,947.50 177.40,947.50 174.00,953.30" fill="#050505"/>
<polygon points="179.10,951.20 185.90,951.20 182.50,957.00" fill="#050505"/>
<polygon points="175.10,955.50 181.90,955.50 178.50,961.30" fill="#050505"/>
<polygon points="174.80,965.50 181.60,965.50 178.20,971.30" fill="#050505"/>
<line x1="149.40" y1="928.50" x2="163.40" y2="928.50" stroke="#2a2a2a" stroke-width="1.15"/>
<line x1="156.40" y1="913.90" x2="156.40" y2="943.00" stroke="#2a2a2a" stroke-width="1.0"/>
<line x1="152.90" y1="913.90" x2="159.90" y2="913.90" stroke="#2a2a2a" stroke-width="1.15"/>
<line x1="152.90" y1="943.00" x2="159.90" y2="943.00" stroke="#2a2a2a" stroke-width="1.15"/>
<line x1="171.70" y1="941.20" x2="185.70" y2="941.20" stroke="#2a2a2a" stroke-width="1.15"/>
<line x1="178.70" y1="932.00" x2="178.70" y2="948.00" stroke="#2a2a2a" stroke-width="1.0"/>
<line x1="175.20" y1="932.00" x2="182.20" y2="932.00" stroke="#2a2a2a" stroke-width="1.15"/>
<line x1="175.20" y1="948.00" x2="182.20" y2="948.00" stroke="#2a2a2a" stroke-width="1.15"/>
<polygon points="210.40,772.10 217.20,772.10 213.80,766.30" fill="#050505"/>
<polygon points="210.40,871.60 217.20,871.60 213.80,865.80" fill="#050505"/>
<polygon points="206.10,942.30 212.90,942.30 209.50,936.50" fill="#050505"/>
<polygon points="210.40,941.20 217.20,941.20 213.80,935.40" fill="#050505"/>
<polygon points="214.60,943.60 221.40,943.60 218.00,937.80" fill="#050505"/>
<polygon points="205.60,965.30 212.40,965.30 209.00,959.50" fill="#050505"/>
<polygon points="214.10,966.80 220.90,966.80 217.50,961.00" fill="#050505"/>
<polygon points="210.10,971.80 216.90,971.80 213.50,966.00" fill="#050505"/>
<polygon points="214.60,975.10 221.40,975.10 218.00,969.30" fill="#050505"/>
<polygon points="206.60,978.40 213.40,978.40 210.00,972.60" fill="#050505"/>
<polygon points="231.90,768.00 238.70,768.00 235.30,773.80" fill="#050505"/>
<polygon points="231.90,926.60 238.70,926.60 235.30,932.40" fill="#050505"/>
<polygon points="231.90,937.60 238.70,937.60 235.30,943.40" fill="#050505"/>
<polygon points="228.60,945.20 235.40,945.20 232.00,951.00" fill="#050505"/>
<polygon points="235.10,945.70 241.90,945.70 238.50,951.50" fill="#050505"/>
<polygon points="231.90,949.60 238.70,949.60 235.30,955.40" fill="#050505"/>
<polygon points="229.60,947.40 236.40,947.40 233.00,953.20" fill="#050505"/>
<polygon points="235.10,951.80 241.90,951.80 238.50,957.60" fill="#050505"/>
<polygon points="233.60,957.30 240.40,957.30 237.00,963.10" fill="#050505"/>
<polygon points="231.90,966.00 238.70,966.00 235.30,971.80" fill="#050505"/>
<line x1="206.80" y1="928.50" x2="220.80" y2="928.50" stroke="#2a2a2a" stroke-width="1.15"/>
<line x1="213.80" y1="908.80" x2="213.80" y2="948.80" stroke="#2a2a2a" stroke-width="1.0"/>
<line x1="210.30" y1="908.80" x2="217.30" y2="908.80" stroke="#2a2a2a" stroke-width="1.15"/>
<line x1="210.30" y1="948.80" x2="217.30" y2="948.80" stroke="#2a2a2a" stroke-width="1.15"/>
<line x1="229.10" y1="933.30" x2="243.10" y2="933.30" stroke="#2a2a2a" stroke-width="1.15"/>
<line x1="236.10" y1="915.30" x2="236.10" y2="951.00" stroke="#2a2a2a" stroke-width="1.0"/>
<line x1="232.60" y1="915.30" x2="239.60" y2="915.30" stroke="#2a2a2a" stroke-width="1.15"/>
<line x1="232.60" y1="951.00" x2="239.60" y2="951.00" stroke="#2a2a2a" stroke-width="1.15"/>
<polygon points="268.00,882.60 274.80,882.60 271.40,876.80" fill="#050505"/>
<polygon points="268.00,908.10 274.80,908.10 271.40,902.30" fill="#050505"/>
<polygon points="271.60,910.90 278.40,910.90 275.00,905.10" fill="#050505"/>
<polygon points="268.00,916.40 274.80,916.40 271.40,910.60" fill="#050505"/>
<polygon points="268.00,937.60 274.80,937.60 271.40,931.80" fill="#050505"/>
<polygon points="264.60,946.20 271.40,946.20 268.00,940.40" fill="#050505"/>
<polygon points="268.60,945.70 275.40,945.70 272.00,939.90" fill="#050505"/>
<polygon points="272.10,950.40 278.90,950.40 275.50,944.60" fill="#050505"/>
<polygon points="265.10,965.50 271.90,965.50 268.50,959.70" fill="#050505"/>
<polygon points="269.60,962.90 276.40,962.90 273.00,957.10" fill="#050505"/>
<polygon points="289.30,847.50 296.10,847.50 292.70,853.30" fill="#050505"/>
<polygon points="289.30,877.50 296.10,877.50 292.70,883.30" fill="#050505"/>
<polygon points="289.30,885.10 296.10,885.10 292.70,890.90" fill="#050505"/>
<polygon points="285.60,915.80 292.40,915.80 289.00,921.60" fill="#050505"/>
<polygon points="293.10,920.00 299.90,920.00 296.50,925.80" fill="#050505"/>
<polygon points="289.30,921.40 296.10,921.40 292.70,927.20" fill="#050505"/>
<polygon points="289.30,929.10 296.10,929.10 292.70,934.90" fill="#050505"/>
<polygon points="285.60,942.90 292.40,942.90 289.00,948.70" fill="#050505"/>
<polygon points="292.60,943.60 299.40,943.60 296.00,949.40" fill="#050505"/>
<polygon points="289.30,952.70 296.10,952.70 292.70,958.50" fill="#050505"/>
<line x1="264.20" y1="928.60" x2="278.20" y2="928.60" stroke="#2a2a2a" stroke-width="1.15"/>
<line x1="271.20" y1="920.00" x2="271.20" y2="936.10" stroke="#2a2a2a" stroke-width="1.0"/>
<line x1="267.70" y1="920.00" x2="274.70" y2="920.00" stroke="#2a2a2a" stroke-width="1.15"/>
<line x1="267.70" y1="936.10" x2="274.70" y2="936.10" stroke="#2a2a2a" stroke-width="1.15"/>
<line x1="286.50" y1="916.90" x2="300.50" y2="916.90" stroke="#2a2a2a" stroke-width="1.15"/>
<line x1="293.50" y1="906.20" x2="293.50" y2="927.50" stroke="#2a2a2a" stroke-width="1.0"/>
<line x1="290.00" y1="906.20" x2="297.00" y2="906.20" stroke="#2a2a2a" stroke-width="1.15"/>
<line x1="290.00" y1="927.50" x2="297.00" y2="927.50" stroke="#2a2a2a" stroke-width="1.15"/>
<polygon points="325.30,891.40 332.10,891.40 328.70,885.60" fill="#050505"/>
<polygon points="322.60,902.50 329.40,902.50 326.00,896.70" fill="#050505"/>
<polygon points="328.10,907.00 334.90,907.00 331.50,901.20" fill="#050505"/>
<polygon points="325.30,916.70 332.10,916.70 328.70,910.90" fill="#050505"/>
<polygon points="321.60,939.00 328.40,939.00 325.00,933.20" fill="#050505"/>
<polygon points="328.60,940.40 335.40,940.40 332.00,934.60" fill="#050505"/>
<polygon points="325.30,943.90 332.10,943.90 328.70,938.10" fill="#050505"/>
<polygon points="325.30,953.60 332.10,953.60 328.70,947.80" fill="#050505"/>
<polygon points="322.60,966.20 329.40,966.20 326.00,960.40" fill="#050505"/>
<polygon points="327.60,963.00 334.40,963.00 331.00,957.20" fill="#050505"/>
<polygon points="346.90,846.10 353.70,846.10 350.30,851.90" fill="#050505"/>
<polygon points="350.10,877.50 356.90,877.50 353.50,883.30" fill="#050505"/>
<polygon points="346.90,883.10 353.70,883.10 350.30,888.90" fill="#050505"/>
<polygon points="346.90,912.30 353.70,912.30 350.30,918.10" fill="#050505"/>
<polygon points="343.10,922.80 349.90,922.80 346.50,928.60" fill="#050505"/>
<polygon points="350.60,922.80 357.40,922.80 354.00,928.60" fill="#050505"/>
<polygon points="346.90,929.00 353.70,929.00 350.30,934.80" fill="#050505"/>
<polygon points="344.60,943.60 351.40,943.60 348.00,949.40" fill="#050505"/>
<polygon points="349.10,943.60 355.90,943.60 352.50,949.40" fill="#050505"/>
<polygon points="346.90,950.60 353.70,950.60 350.30,956.40" fill="#050505"/>
<line x1="321.60" y1="929.10" x2="335.60" y2="929.10" stroke="#2a2a2a" stroke-width="1.15"/>
<line x1="328.60" y1="921.10" x2="328.60" y2="937.50" stroke="#2a2a2a" stroke-width="1.0"/>
<line x1="325.10" y1="921.10" x2="332.10" y2="921.10" stroke="#2a2a2a" stroke-width="1.15"/>
<line x1="325.10" y1="937.50" x2="332.10" y2="937.50" stroke="#2a2a2a" stroke-width="1.15"/>
<line x1="343.90" y1="916.60" x2="357.90" y2="916.60" stroke="#2a2a2a" stroke-width="1.15"/>
<line x1="350.90" y1="906.20" x2="350.90" y2="927.50" stroke="#2a2a2a" stroke-width="1.0"/>
<line x1="347.40" y1="906.20" x2="354.40" y2="906.20" stroke="#2a2a2a" stroke-width="1.15"/>
<line x1="347.40" y1="927.50" x2="354.40" y2="927.50" stroke="#2a2a2a" stroke-width="1.15"/>
<polygon points="382.50,811.50 389.30,811.50 385.90,805.70" fill="#050505"/>
<polygon points="382.50,921.90 389.30,921.90 385.90,916.10" fill="#050505"/>
<polygon points="380.60,939.80 387.40,939.80 384.00,934.00" fill="#050505"/>
<polygon points="384.60,940.30 391.40,940.30 388.00,934.50" fill="#050505"/>
<polygon points="382.50,944.20 389.30,944.20 385.90,938.40" fill="#050505"/>
<polygon points="387.60,945.10 394.40,945.10 391.00,939.30" fill="#050505"/>
<polygon points="378.10,948.70 384.90,948.70 381.50,942.90" fill="#050505"/>
<polygon points="382.60,943.40 389.40,943.40 386.00,937.60" fill="#050505"/>
<polygon points="382.50,959.50 389.30,959.50 385.90,953.70" fill="#050505"/>
<polygon points="382.50,967.50 389.30,967.50 385.90,961.70" fill="#050505"/>
<polygon points="400.60,916.10 407.40,916.10 404.00,921.90" fill="#050505"/>
<polygon points="406.60,914.30 413.40,914.30 410.00,920.10" fill="#050505"/>
<polygon points="400.60,931.60 407.40,931.60 404.00,937.40" fill="#050505"/>
<polygon points="406.60,930.90 413.40,930.90 410.00,936.70" fill="#050505"/>
<polygon points="404.10,933.10 410.90,933.10 407.50,938.90" fill="#050505"/>
<polygon points="408.60,932.70 415.40,932.70 412.00,938.50" fill="#050505"/>
<polygon points="399.60,944.20 406.40,944.20 403.00,950.00" fill="#050505"/>
<polygon points="404.60,941.70 411.40,941.70 408.00,947.50" fill="#050505"/>
<polygon points="408.60,942.40 415.40,942.40 412.00,948.20" fill="#050505"/>
<polygon points="404.30,934.00 411.10,934.00 407.70,939.80" fill="#050505"/>
<line x1="379.00" y1="928.50" x2="393.00" y2="928.50" stroke="#2a2a2a" stroke-width="1.15"/>
<line x1="386.00" y1="914.50" x2="386.00" y2="936.00" stroke="#2a2a2a" stroke-width="1.0"/>
<line x1="382.50" y1="914.50" x2="389.50" y2="914.50" stroke="#2a2a2a" stroke-width="1.15"/>
<line x1="382.50" y1="936.00" x2="389.50" y2="936.00" stroke="#2a2a2a" stroke-width="1.15"/>
<line x1="401.30" y1="935.00" x2="415.30" y2="935.00" stroke="#2a2a2a" stroke-width="1.15"/>
<line x1="408.30" y1="931.00" x2="408.30" y2="939.00" stroke="#2a2a2a" stroke-width="1.0"/>
<line x1="404.80" y1="931.00" x2="411.80" y2="931.00" stroke="#2a2a2a" stroke-width="1.15"/>
<line x1="404.80" y1="939.00" x2="411.80" y2="939.00" stroke="#2a2a2a" stroke-width="1.15"/>
<polygon points="439.70,872.90 446.50,872.90 443.10,867.10" fill="#050505"/>
<polygon points="439.70,921.90 446.50,921.90 443.10,916.10" fill="#050505"/>
<polygon points="439.70,928.40 446.50,928.40 443.10,922.60" fill="#050505"/>
<polygon points="436.60,932.80 443.40,932.80 440.00,927.00" fill="#050505"/>
<polygon points="442.60,932.80 449.40,932.80 446.00,927.00" fill="#050505"/>
<polygon points="439.60,934.90 446.40,934.90 443.00,929.10" fill="#050505"/>
<polygon points="436.10,933.50 442.90,933.50 439.50,927.70" fill="#050505"/>
<polygon points="439.70,945.20 446.50,945.20 443.10,939.40" fill="#050505"/>
<polygon points="442.60,955.40 449.40,955.40 446.00,949.60" fill="#050505"/>
<polygon points="437.60,959.00 444.40,959.00 441.00,953.20" fill="#050505"/>
<polygon points="462.00,899.30 468.80,899.30 465.40,905.10" fill="#050505"/>
<polygon points="462.00,908.00 468.80,908.00 465.40,913.80" fill="#050505"/>
<polygon points="462.00,921.10 468.80,921.10 465.40,926.90" fill="#050505"/>
<polygon points="458.60,924.10 465.40,924.10 462.00,929.90" fill="#050505"/>
<polygon points="465.60,925.50 472.40,925.50 469.00,931.30" fill="#050505"/>
<polygon points="458.60,932.10 465.40,932.10 462.00,937.90" fill="#050505"/>
<polygon points="464.60,932.80 471.40,932.80 468.00,938.60" fill="#050505"/>
<polygon points="462.00,935.70 468.80,935.70 465.40,941.50" fill="#050505"/>
<polygon points="457.60,942.30 464.40,942.30 461.00,948.10" fill="#050505"/>
<polygon points="465.60,942.30 472.40,942.30 469.00,948.10" fill="#050505"/>
<line x1="436.40" y1="928.40" x2="450.40" y2="928.40" stroke="#2a2a2a" stroke-width="1.15"/>
<line x1="443.40" y1="921.90" x2="443.40" y2="935.00" stroke="#2a2a2a" stroke-width="1.0"/>
<line x1="439.90" y1="921.90" x2="446.90" y2="921.90" stroke="#2a2a2a" stroke-width="1.15"/>
<line x1="439.90" y1="935.00" x2="446.90" y2="935.00" stroke="#2a2a2a" stroke-width="1.15"/>
<line x1="458.70" y1="929.90" x2="472.70" y2="929.90" stroke="#2a2a2a" stroke-width="1.15"/>
<line x1="465.70" y1="923.30" x2="465.70" y2="935.70" stroke="#2a2a2a" stroke-width="1.0"/>
<line x1="462.20" y1="923.30" x2="469.20" y2="923.30" stroke="#2a2a2a" stroke-width="1.15"/>
<line x1="462.20" y1="935.70" x2="469.20" y2="935.70" stroke="#2a2a2a" stroke-width="1.15"/>
<polygon points="497.30,855.80 504.10,855.80 500.70,850.00" fill="#050505"/>
<polygon points="497.30,900.30 504.10,900.30 500.70,894.50" fill="#050505"/>
<polygon points="497.30,912.70 504.10,912.70 500.70,906.90" fill="#050505"/>
<polygon points="497.30,932.30 504.10,932.30 500.70,926.50" fill="#050505"/>
<polygon points="497.30,941.10 504.10,941.10 500.70,935.30" fill="#050505"/>
<polygon points="492.10,950.60 498.90,950.60 495.50,944.80" fill="#050505"/>
<polygon points="502.60,950.60 509.40,950.60 506.00,944.80" fill="#050505"/>
<polygon points="497.30,954.90 504.10,954.90 500.70,949.10" fill="#050505"/>
<polygon points="492.60,963.40 499.40,963.40 496.00,957.60" fill="#050505"/>
<polygon points="501.60,963.40 508.40,963.40 505.00,957.60" fill="#050505"/>
<polygon points="517.60,911.20 524.40,911.20 521.00,917.00" fill="#050505"/>
<polygon points="514.60,914.10 521.40,914.10 518.00,919.90" fill="#050505"/>
<polygon points="523.60,916.30 530.40,916.30 527.00,922.10" fill="#050505"/>
<polygon points="519.10,919.30 525.90,919.30 522.50,925.10" fill="#050505"/>
<polygon points="521.60,918.50 528.40,918.50 525.00,924.30" fill="#050505"/>
<polygon points="514.60,935.30 521.40,935.30 518.00,941.10" fill="#050505"/>
<polygon points="520.60,933.80 527.40,933.80 524.00,939.60" fill="#050505"/>
<polygon points="524.60,938.20 531.40,938.20 528.00,944.00" fill="#050505"/>
<polygon points="514.60,942.60 521.40,942.60 518.00,948.40" fill="#050505"/>
<polygon points="520.60,941.10 527.40,941.10 524.00,946.90" fill="#050505"/>
<line x1="493.80" y1="929.40" x2="507.80" y2="929.40" stroke="#2a2a2a" stroke-width="1.15"/>
<line x1="500.80" y1="918.50" x2="500.80" y2="937.50" stroke="#2a2a2a" stroke-width="1.0"/>
<line x1="497.30" y1="918.50" x2="504.30" y2="918.50" stroke="#2a2a2a" stroke-width="1.15"/>
<line x1="497.30" y1="937.50" x2="504.30" y2="937.50" stroke="#2a2a2a" stroke-width="1.15"/>
<line x1="516.10" y1="930.50" x2="530.10" y2="930.50" stroke="#2a2a2a" stroke-width="1.15"/>
<line x1="523.10" y1="926.10" x2="523.10" y2="934.50" stroke="#2a2a2a" stroke-width="1.0"/>
<line x1="519.60" y1="926.10" x2="526.60" y2="926.10" stroke="#2a2a2a" stroke-width="1.15"/>
<line x1="519.60" y1="934.50" x2="526.60" y2="934.50" stroke="#2a2a2a" stroke-width="1.15"/>
<polygon points="554.40,899.30 561.20,899.30 557.80,893.50" fill="#050505"/>
<polygon points="556.60,903.90 563.40,903.90 560.00,898.10" fill="#050505"/>
<polygon points="554.40,928.70 561.20,928.70 557.80,922.90" fill="#050505"/>
<polygon points="551.60,932.30 558.40,932.30 555.00,926.50" fill="#050505"/>
<polygon points="557.60,936.00 564.40,936.00 561.00,930.20" fill="#050505"/>
<polygon points="551.60,938.20 558.40,938.20 555.00,932.40" fill="#050505"/>
<polygon points="554.40,940.40 561.20,940.40 557.80,934.60" fill="#050505"/>
<polygon points="548.60,938.90 555.40,938.90 552.00,933.10" fill="#050505"/>
<polygon points="552.60,952.80 559.40,952.80 556.00,947.00" fill="#050505"/>
<polygon points="556.60,950.60 563.40,950.60 560.00,944.80" fill="#050505"/>
<polygon points="576.60,887.20 583.40,887.20 580.00,893.00" fill="#050505"/>
<polygon points="572.60,895.90 579.40,895.90 576.00,901.70" fill="#050505"/>
<polygon points="582.60,895.20 589.40,895.20 586.00,901.00" fill="#050505"/>
<polygon points="576.60,900.30 583.40,900.30 580.00,906.10" fill="#050505"/>
<polygon points="576.60,913.40 583.40,913.40 580.00,919.20" fill="#050505"/>
<polygon points="572.60,922.90 579.40,922.90 576.00,928.70" fill="#050505"/>
<polygon points="582.60,927.00 589.40,927.00 586.00,932.80" fill="#050505"/>
<polygon points="576.60,933.10 583.40,933.10 580.00,938.90" fill="#050505"/>
<polygon points="576.60,943.30 583.40,943.30 580.00,949.10" fill="#050505"/>
<polygon points="576.60,951.30 583.40,951.30 580.00,957.10" fill="#050505"/>
<line x1="551.20" y1="929.40" x2="565.20" y2="929.40" stroke="#2a2a2a" stroke-width="1.15"/>
<line x1="558.20" y1="922.90" x2="558.20" y2="936.00" stroke="#2a2a2a" stroke-width="1.0"/>
<line x1="554.70" y1="922.90" x2="561.70" y2="922.90" stroke="#2a2a2a" stroke-width="1.15"/>
<line x1="554.70" y1="936.00" x2="561.70" y2="936.00" stroke="#2a2a2a" stroke-width="1.15"/>
<line x1="573.50" y1="921.10" x2="587.50" y2="921.10" stroke="#2a2a2a" stroke-width="1.15"/>
<line x1="580.50" y1="915.60" x2="580.50" y2="927.30" stroke="#2a2a2a" stroke-width="1.0"/>
<line x1="577.00" y1="915.60" x2="584.00" y2="915.60" stroke="#2a2a2a" stroke-width="1.15"/>
<line x1="577.00" y1="927.30" x2="584.00" y2="927.30" stroke="#2a2a2a" stroke-width="1.15"/>
<polygon points="608.60,925.90 615.40,925.90 612.00,920.10" fill="#050505"/>
<polygon points="616.10,925.90 622.90,925.90 619.50,920.10" fill="#050505"/>
<polygon points="612.40,927.40 619.20,927.40 615.80,921.60" fill="#050505"/>
<polygon points="609.60,928.90 616.40,928.90 613.00,923.10" fill="#050505"/>
<polygon points="615.60,928.90 622.40,928.90 619.00,923.10" fill="#050505"/>
<polygon points="612.40,935.90 619.20,935.90 615.80,930.10" fill="#050505"/>
<polygon points="612.40,938.90 619.20,938.90 615.80,933.10" fill="#050505"/>
<polygon points="608.60,944.30 615.40,944.30 612.00,938.50" fill="#050505"/>
<polygon points="616.60,944.30 623.40,944.30 620.00,938.50" fill="#050505"/>
<polygon points="612.40,940.40 619.20,940.40 615.80,934.60" fill="#050505"/>
<polygon points="634.30,918.50 641.10,918.50 637.70,924.30" fill="#050505"/>
<polygon points="630.60,925.90 637.40,925.90 634.00,931.70" fill="#050505"/>
<polygon points="637.60,926.50 644.40,926.50 641.00,932.30" fill="#050505"/>
<polygon points="634.30,928.50 641.10,928.50 637.70,934.30" fill="#050505"/>
<polygon points="634.30,931.60 641.10,931.60 637.70,937.40" fill="#050505"/>
<polygon points="630.60,933.10 637.40,933.10 634.00,938.90" fill="#050505"/>
<polygon points="637.60,933.90 644.40,933.90 641.00,939.70" fill="#050505"/>
<polygon points="630.60,938.50 637.40,938.50 634.00,944.30" fill="#050505"/>
<polygon points="637.60,938.50 644.40,938.50 641.00,944.30" fill="#050505"/>
<polygon points="634.30,936.90 641.10,936.90 637.70,942.70" fill="#050505"/>
<line x1="608.60" y1="928.30" x2="622.60" y2="928.30" stroke="#2a2a2a" stroke-width="1.15"/>
<line x1="615.60" y1="924.80" x2="615.60" y2="932.20" stroke="#2a2a2a" stroke-width="1.0"/>
<line x1="612.10" y1="924.80" x2="619.10" y2="924.80" stroke="#2a2a2a" stroke-width="1.15"/>
<line x1="612.10" y1="932.20" x2="619.10" y2="932.20" stroke="#2a2a2a" stroke-width="1.15"/>
<line x1="630.90" y1="935.20" x2="644.90" y2="935.20" stroke="#2a2a2a" stroke-width="1.15"/>
<line x1="637.90" y1="932.20" x2="637.90" y2="938.00" stroke="#2a2a2a" stroke-width="1.0"/>
<line x1="634.40" y1="932.20" x2="641.40" y2="932.20" stroke="#2a2a2a" stroke-width="1.15"/>
<line x1="634.40" y1="938.00" x2="641.40" y2="938.00" stroke="#2a2a2a" stroke-width="1.15"/>
<polygon points="672.60,915.90 679.40,915.90 676.00,910.10" fill="#050505"/>
<polygon points="669.90,918.90 676.70,918.90 673.30,913.10" fill="#050505"/>
<polygon points="667.60,922.00 674.40,922.00 671.00,916.20" fill="#050505"/>
<polygon points="664.60,928.90 671.40,928.90 668.00,923.10" fill="#050505"/>
<polygon points="669.90,930.50 676.70,930.50 673.30,924.70" fill="#050505"/>
<polygon points="672.60,932.80 679.40,932.80 676.00,927.00" fill="#050505"/>
<polygon points="667.60,933.50 674.40,933.50 671.00,927.70" fill="#050505"/>
<polygon points="669.90,942.00 676.70,942.00 673.30,936.20" fill="#050505"/>
<polygon points="669.90,944.30 676.70,944.30 673.30,938.50" fill="#050505"/>
<polygon points="669.90,949.60 676.70,949.60 673.30,943.80" fill="#050505"/>
<polygon points="691.10,890.90 697.90,890.90 694.50,896.70" fill="#050505"/>
<polygon points="687.60,907.00 694.40,907.00 691.00,912.80" fill="#050505"/>
<polygon points="693.60,912.40 700.40,912.40 697.00,918.20" fill="#050505"/>
<polygon points="691.10,918.20 697.90,918.20 694.50,924.00" fill="#050505"/>
<polygon points="687.10,925.40 693.90,925.40 690.50,931.20" fill="#050505"/>
<polygon points="694.10,926.20 700.90,926.20 697.50,932.00" fill="#050505"/>
<polygon points="691.10,929.30 697.90,929.30 694.50,935.10" fill="#050505"/>
<polygon points="695.60,931.60 702.40,931.60 699.00,937.40" fill="#050505"/>
<polygon points="686.60,940.00 693.40,940.00 690.00,945.80" fill="#050505"/>
<polygon points="695.60,939.70 702.40,939.70 699.00,945.50" fill="#050505"/>
<line x1="666.00" y1="929.40" x2="680.00" y2="929.40" stroke="#2a2a2a" stroke-width="1.15"/>
<line x1="673.00" y1="925.30" x2="673.00" y2="932.90" stroke="#2a2a2a" stroke-width="1.0"/>
<line x1="669.50" y1="925.30" x2="676.50" y2="925.30" stroke="#2a2a2a" stroke-width="1.15"/>
<line x1="669.50" y1="932.90" x2="676.50" y2="932.90" stroke="#2a2a2a" stroke-width="1.15"/>
<line x1="688.30" y1="926.80" x2="702.30" y2="926.80" stroke="#2a2a2a" stroke-width="1.15"/>
<line x1="695.30" y1="920.70" x2="695.30" y2="932.20" stroke="#2a2a2a" stroke-width="1.0"/>
<line x1="691.80" y1="920.70" x2="698.80" y2="920.70" stroke="#2a2a2a" stroke-width="1.15"/>
<line x1="691.80" y1="932.20" x2="698.80" y2="932.20" stroke="#2a2a2a" stroke-width="1.15"/>
<rect x="597.1" y="867.3" width="60.5" height="98.6" fill="none" stroke="#9a9a9a" stroke-width="1.2"/>
<path d="M616.2,909.5 V902.7 H637.7 V909.5" fill="none" stroke="#333" stroke-width="1.2"/>
<text x="613.00" y="896.1" font-size="14.5" fill="#262626" textLength="28.10" lengthAdjust="spacingAndGlyphs">0.07</text>
<line x1="597.0" y1="776" x2="597.0" y2="867" stroke="#9a9a9a" stroke-width="0.9" stroke-dasharray="1.2,1.6"/>
<line x1="737.6" y1="775.5" x2="657.4" y2="867.3" stroke="#9a9a9a" stroke-width="0.9" stroke-dasharray="1.2,1.6"/>
<line x1="596.90" y1="560.90" x2="596.90" y2="775.70" stroke="#555" stroke-width="1.3"/>
<line x1="590.60" y1="561.50" x2="596.90" y2="561.50" stroke="#555" stroke-width="1.3"/>
<text x="587.6" y="565.9" font-size="15.0" fill="#262626" text-anchor="end">150</text>
<line x1="590.60" y1="658.60" x2="596.90" y2="658.60" stroke="#555" stroke-width="1.3"/>
<text x="587.6" y="663.0" font-size="15.0" fill="#262626" text-anchor="end">100</text>
<line x1="590.60" y1="755.60" x2="596.90" y2="755.60" stroke="#555" stroke-width="1.3"/>
<text x="587.6" y="760.0" font-size="15.0" fill="#262626" text-anchor="end">50</text>
<line x1="596.90" y1="775.10" x2="737.80" y2="775.10" stroke="#555" stroke-width="1.3"/>
<line x1="637.50" y1="775.10" x2="637.50" y2="781.30" stroke="#555" stroke-width="1.3"/>
<line x1="698.40" y1="775.10" x2="698.40" y2="781.30" stroke="#555" stroke-width="1.3"/>
<text x="620.50" y="798.9" font-size="15.2" fill="#262626" textLength="35.20" lengthAdjust="spacingAndGlyphs">PFD+</text>
<text x="681.00" y="798.9" font-size="15.2" fill="#262626" textLength="34.70" lengthAdjust="spacingAndGlyphs">PFD–</text>
<path d="M637.00,587.20 C637.22,588.98 637.50,594.62 638.30,597.90 C639.10,601.18 640.32,603.92 641.80,606.90 C643.28,609.88 645.40,613.12 647.20,615.80 C649.00,618.48 651.25,620.90 652.60,623.00 C653.95,625.10 654.70,626.62 655.30,628.40 C655.90,630.18 656.35,631.92 656.20,633.70 C656.05,635.48 655.45,637.30 654.40,639.10 C653.35,640.90 651.70,642.42 649.90,644.50 C648.10,646.58 645.03,648.92 643.60,651.60 C642.17,654.28 641.60,657.60 641.30,660.60 C641.00,663.60 641.42,665.12 641.80,669.60 C642.18,674.08 642.93,681.53 643.60,687.50 C644.27,693.47 645.65,700.93 645.80,705.40 C645.95,709.87 645.32,711.32 644.50,714.30 C643.68,717.28 641.85,720.32 640.90,723.30 C639.95,726.28 639.30,729.22 638.80,732.20 C638.30,735.18 638.20,737.77 637.90,741.20 C637.60,744.63 637.15,750.87 637.00,752.80 C636.85,750.87 636.40,744.63 636.10,741.20 C635.80,737.77 635.70,735.18 635.20,732.20 C634.70,729.22 634.05,726.28 633.10,723.30 C632.15,720.32 630.32,717.28 629.50,714.30 C628.68,711.32 628.05,709.87 628.20,705.40 C628.35,700.93 629.73,693.47 630.40,687.50 C631.07,681.53 631.82,674.08 632.20,669.60 C632.58,665.12 633.00,663.60 632.70,660.60 C632.40,657.60 631.83,654.28 630.40,651.60 C628.97,648.92 625.90,646.58 624.10,644.50 C622.30,642.42 620.65,640.90 619.60,639.10 C618.55,637.30 617.95,635.48 617.80,633.70 C617.65,631.92 618.10,630.18 618.70,628.40 C619.30,626.62 620.05,625.10 621.40,623.00 C622.75,620.90 625.00,618.48 626.80,615.80 C628.60,613.12 630.72,609.88 632.20,606.90 C633.68,603.92 634.90,601.18 635.70,597.90 C636.50,594.62 636.78,588.98 637.00,587.20 Z" fill="none" stroke="#1a1a1a" stroke-width="1.1"/>
<path d="M698.30,605.30 C698.48,607.03 698.68,612.65 699.40,615.70 C700.12,618.75 701.62,620.68 702.60,623.60 C703.58,626.52 705.17,630.27 705.30,633.20 C705.43,636.13 703.90,638.55 703.40,641.20 C702.90,643.85 702.25,646.72 702.30,649.10 C702.35,651.48 702.72,653.38 703.70,655.50 C704.68,657.62 706.87,659.68 708.20,661.80 C709.53,663.92 710.85,665.53 711.70,668.20 C712.55,670.87 712.83,674.08 713.30,677.80 C713.77,681.52 713.82,686.27 714.50,690.50 C715.18,694.73 717.27,699.48 717.40,703.20 C717.53,706.92 716.57,709.62 715.30,712.80 C714.03,715.98 711.78,719.12 709.80,722.30 C707.82,725.48 705.00,729.25 703.40,731.90 C701.80,734.55 701.05,735.95 700.20,738.20 C699.35,740.45 698.62,744.20 698.30,745.40 C697.98,744.20 697.25,740.45 696.40,738.20 C695.55,735.95 694.80,734.55 693.20,731.90 C691.60,729.25 688.78,725.48 686.80,722.30 C684.82,719.12 682.57,715.98 681.30,712.80 C680.03,709.62 679.07,706.92 679.20,703.20 C679.33,699.48 681.42,694.73 682.10,690.50 C682.78,686.27 682.83,681.52 683.30,677.80 C683.77,674.08 684.05,670.87 684.90,668.20 C685.75,665.53 687.07,663.92 688.40,661.80 C689.73,659.68 691.92,657.62 692.90,655.50 C693.88,653.38 694.25,651.48 694.30,649.10 C694.35,646.72 693.70,643.85 693.20,641.20 C692.70,638.55 691.17,636.13 691.30,633.20 C691.43,630.27 693.02,626.52 694.00,623.60 C694.98,620.68 696.48,618.75 697.20,615.70 C697.92,612.65 698.12,607.03 698.30,605.30 Z" fill="none" stroke="#1a1a1a" stroke-width="1.1"/>
<line x1="618" y1="630.2" x2="656" y2="630.2" stroke="#555" stroke-width="1.2" stroke-dasharray="2.5,2"/>
<line x1="619.5" y1="640.9" x2="654.5" y2="640.9" stroke="#555" stroke-width="1.4" stroke-dasharray="4,2.5"/>
<line x1="631.5" y1="697.3" x2="642.5" y2="697.3" stroke="#555" stroke-width="1.2" stroke-dasharray="1.3,1.3"/>
<line x1="687.5" y1="669.8" x2="711.7" y2="669.8" stroke="#555" stroke-width="1.2" stroke-dasharray="1.5,1.7"/>
<line x1="681.9" y1="692.4" x2="714.6" y2="692.4" stroke="#555" stroke-width="1.4" stroke-dasharray="4,2.5"/>
<line x1="680.3" y1="706.4" x2="716.2" y2="706.4" stroke="#333" stroke-width="1.1" stroke-dasharray="1.3,1.3"/>
<polygon points="620.10,634.70 628.50,634.70 624.30,627.30" fill="#050505"/>
<polygon points="632.30,633.00 640.70,633.00 636.50,625.60" fill="#050505"/>
<polygon points="645.20,634.70 653.60,634.70 649.40,627.30" fill="#050505"/>
<polygon points="632.30,640.10 640.70,640.10 636.50,632.70" fill="#050505"/>
<polygon points="620.10,646.40 628.50,646.40 624.30,639.00" fill="#050505"/>
<polygon points="645.20,645.50 653.60,645.50 649.40,638.10" fill="#050505"/>
<polygon points="632.30,679.50 640.70,679.50 636.50,672.10" fill="#050505"/>
<polygon points="632.30,697.40 640.70,697.40 636.50,690.00" fill="#050505"/>
<polygon points="625.80,714.50 634.20,714.50 630.00,707.10" fill="#050505"/>
<polygon points="639.50,714.50 647.90,714.50 643.70,707.10" fill="#050505"/>
<polygon points="694.10,631.90 702.50,631.90 698.30,639.30" fill="#050505"/>
<polygon points="687.30,662.90 695.70,662.90 691.50,670.30" fill="#050505"/>
<polygon points="703.20,666.90 711.60,666.90 707.40,674.30" fill="#050505"/>
<polygon points="694.10,674.90 702.50,674.90 698.30,682.30" fill="#050505"/>
<polygon points="694.10,682.80 702.50,682.80 698.30,690.20" fill="#050505"/>
<polygon points="680.10,696.30 688.50,696.30 684.30,703.70" fill="#050505"/>
<polygon points="694.10,693.20 702.50,693.20 698.30,700.60" fill="#050505"/>
<polygon points="706.10,697.60 714.50,697.60 710.30,705.00" fill="#050505"/>
<polygon points="687.30,712.30 695.70,712.30 691.50,719.70" fill="#050505"/>
<polygon points="699.50,713.10 707.90,713.10 703.70,720.50" fill="#050505"/>
</g></svg>
</body></html>
